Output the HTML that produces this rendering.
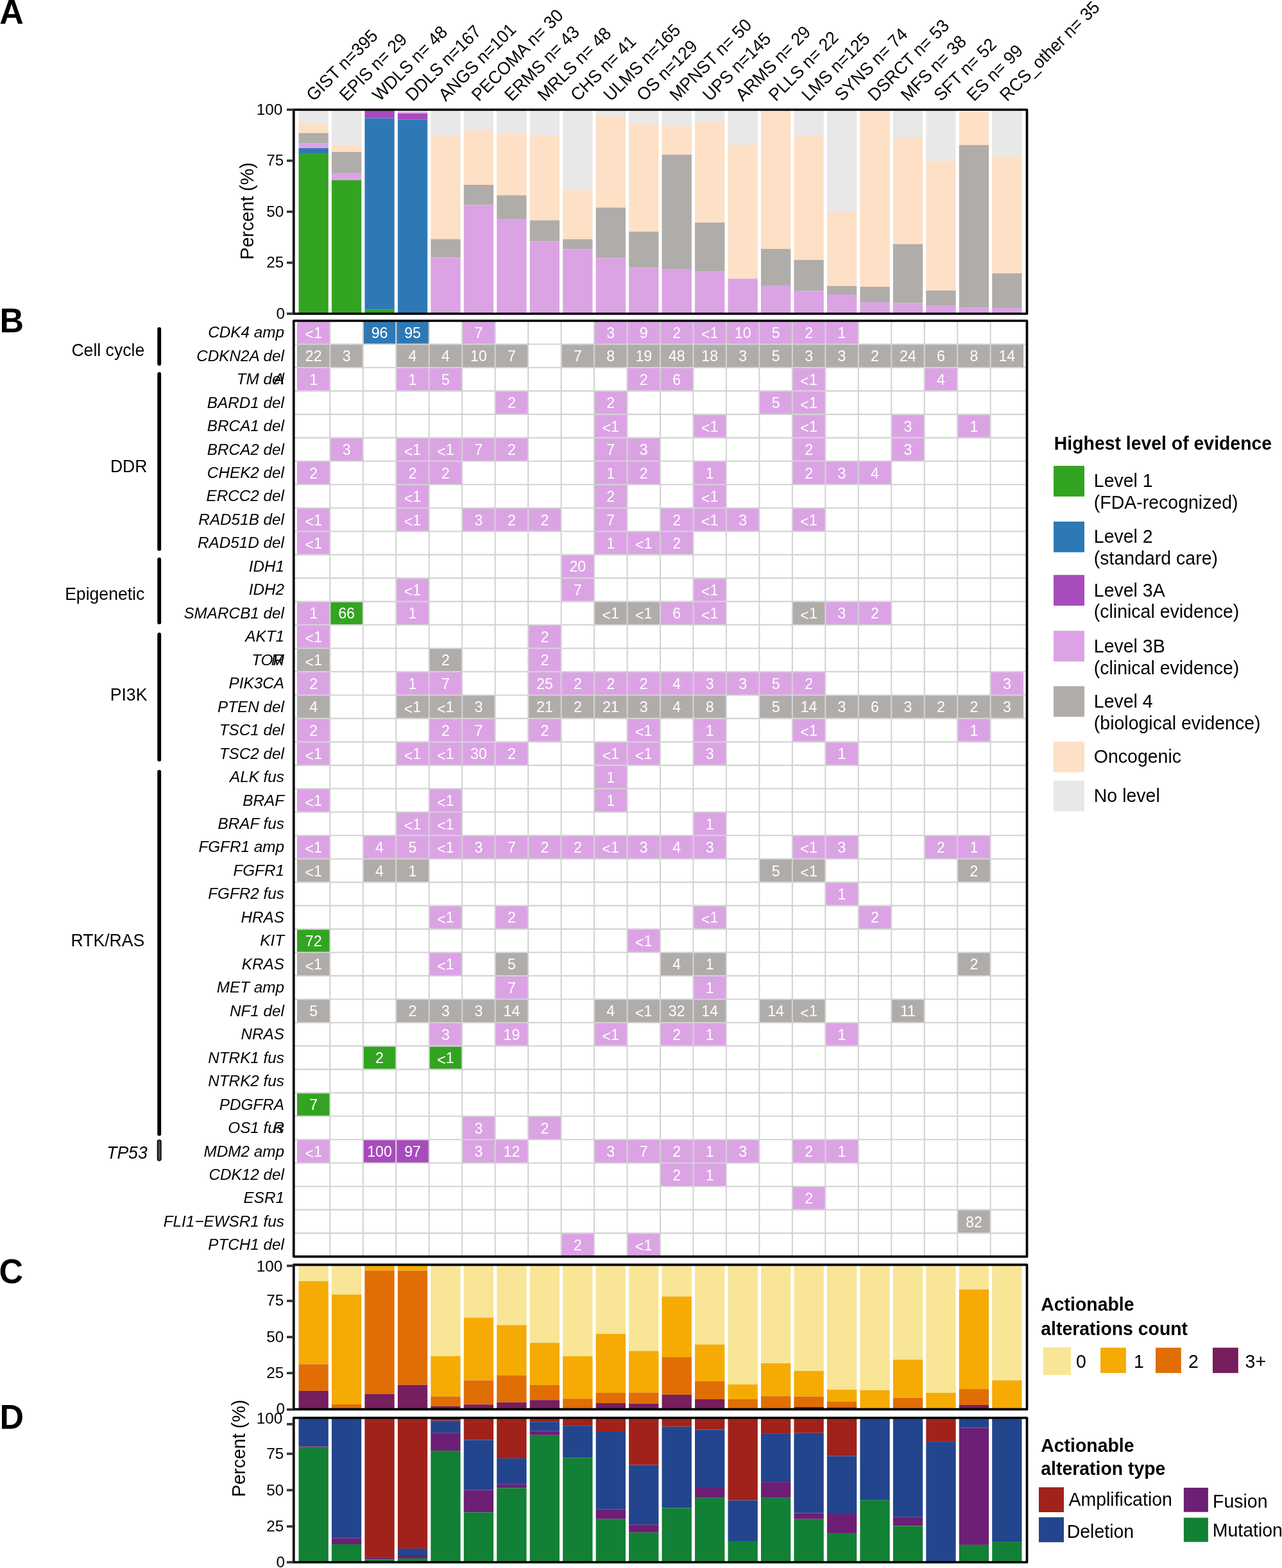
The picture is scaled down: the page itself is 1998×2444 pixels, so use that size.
<!DOCTYPE html>
<html><head><meta charset="utf-8"><title>Figure</title><style>html,body{margin:0;padding:0;background:#fff;overflow:hidden;}svg{display:block;}</style></head><body>
<svg xmlns="http://www.w3.org/2000/svg" width="1998" height="2444" viewBox="0 0 1998 2444" font-family="'Liberation Sans', Arial, Helvetica, sans-serif">
<rect width="1998" height="2444" fill="#fff"/>
<text transform="translate(-0.8,37.3) scale(1,1.04)" font-size="52" font-weight="bold">A</text>
<text transform="translate(-0.4,517.5) scale(1,1.04)" font-size="52" font-weight="bold">B</text>
<text transform="translate(-1.5,2000.3) scale(1,1.04)" font-size="52" font-weight="bold">C</text>
<text transform="translate(-0.4,2226.8) scale(1,1.04)" font-size="52" font-weight="bold">D</text>
<rect x="465.47" y="171" width="46.32" height="21.2" fill="#e8e8e8"/>
<rect x="465.47" y="192.2" width="46.32" height="15.1" fill="#fde0c5"/>
<rect x="465.47" y="207.3" width="46.32" height="16.4" fill="#b0acaa"/>
<rect x="465.47" y="223.7" width="46.32" height="7.3" fill="#dba3e4"/>
<rect x="465.47" y="231" width="46.32" height="8.9" fill="#2e79b5"/>
<rect x="465.47" y="239.9" width="46.32" height="249.1" fill="#33a421"/>
<rect x="516.93" y="171" width="46.32" height="55.1" fill="#e8e8e8"/>
<rect x="516.93" y="226.1" width="46.32" height="10.8" fill="#fde0c5"/>
<rect x="516.93" y="236.9" width="46.32" height="33" fill="#b0acaa"/>
<rect x="516.93" y="269.9" width="46.32" height="10.9" fill="#dba3e4"/>
<rect x="516.93" y="280.8" width="46.32" height="208.2" fill="#33a421"/>
<rect x="568.4" y="171" width="46.32" height="13.4" fill="#a74bbd"/>
<rect x="568.4" y="184.4" width="46.32" height="298.3" fill="#2e79b5"/>
<rect x="568.4" y="482.7" width="46.32" height="6.3" fill="#33a421"/>
<rect x="619.86" y="171" width="46.32" height="3.6" fill="#fde0c5"/>
<rect x="619.86" y="174.6" width="46.32" height="2.3" fill="#dba3e4"/>
<rect x="619.86" y="176.9" width="46.32" height="9.5" fill="#a74bbd"/>
<rect x="619.86" y="186.4" width="46.32" height="302.6" fill="#2e79b5"/>
<rect x="671.33" y="171" width="46.32" height="41.4" fill="#e8e8e8"/>
<rect x="671.33" y="212.4" width="46.32" height="160.3" fill="#fde0c5"/>
<rect x="671.33" y="372.7" width="46.32" height="28.5" fill="#b0acaa"/>
<rect x="671.33" y="401.2" width="46.32" height="86.4" fill="#dba3e4"/>
<rect x="671.33" y="487.6" width="46.32" height="1.4" fill="#33a421"/>
<rect x="722.79" y="171" width="46.32" height="32.1" fill="#e8e8e8"/>
<rect x="722.79" y="203.1" width="46.32" height="85" fill="#fde0c5"/>
<rect x="722.79" y="288.1" width="46.32" height="31.5" fill="#b0acaa"/>
<rect x="722.79" y="319.6" width="46.32" height="169.4" fill="#dba3e4"/>
<rect x="774.25" y="171" width="46.32" height="37.2" fill="#e8e8e8"/>
<rect x="774.25" y="208.2" width="46.32" height="96.2" fill="#fde0c5"/>
<rect x="774.25" y="304.4" width="46.32" height="36.6" fill="#b0acaa"/>
<rect x="774.25" y="341" width="46.32" height="148" fill="#dba3e4"/>
<rect x="825.72" y="171" width="46.32" height="39.8" fill="#e8e8e8"/>
<rect x="825.72" y="210.8" width="46.32" height="132.6" fill="#fde0c5"/>
<rect x="825.72" y="343.4" width="46.32" height="33.2" fill="#b0acaa"/>
<rect x="825.72" y="376.6" width="46.32" height="112.4" fill="#dba3e4"/>
<rect x="877.18" y="171" width="46.32" height="124.5" fill="#e8e8e8"/>
<rect x="877.18" y="295.5" width="46.32" height="77.4" fill="#fde0c5"/>
<rect x="877.18" y="372.9" width="46.32" height="15.4" fill="#b0acaa"/>
<rect x="877.18" y="388.3" width="46.32" height="100.7" fill="#dba3e4"/>
<rect x="928.65" y="171" width="46.32" height="9.8" fill="#e8e8e8"/>
<rect x="928.65" y="180.8" width="46.32" height="142.7" fill="#fde0c5"/>
<rect x="928.65" y="323.5" width="46.32" height="78.8" fill="#b0acaa"/>
<rect x="928.65" y="402.3" width="46.32" height="86.7" fill="#dba3e4"/>
<rect x="980.11" y="171" width="46.32" height="22.3" fill="#e8e8e8"/>
<rect x="980.11" y="193.3" width="46.32" height="167.8" fill="#fde0c5"/>
<rect x="980.11" y="361.1" width="46.32" height="56.4" fill="#b0acaa"/>
<rect x="980.11" y="417.5" width="46.32" height="71.5" fill="#dba3e4"/>
<rect x="1031.57" y="171" width="46.32" height="25.9" fill="#e8e8e8"/>
<rect x="1031.57" y="196.9" width="46.32" height="44.2" fill="#fde0c5"/>
<rect x="1031.57" y="241.1" width="46.32" height="177.9" fill="#b0acaa"/>
<rect x="1031.57" y="419" width="46.32" height="70" fill="#dba3e4"/>
<rect x="1083.04" y="171" width="46.32" height="19.9" fill="#e8e8e8"/>
<rect x="1083.04" y="190.9" width="46.32" height="155.9" fill="#fde0c5"/>
<rect x="1083.04" y="346.8" width="46.32" height="76.4" fill="#b0acaa"/>
<rect x="1083.04" y="423.2" width="46.32" height="65.8" fill="#dba3e4"/>
<rect x="1134.5" y="171" width="46.32" height="55.1" fill="#e8e8e8"/>
<rect x="1134.5" y="226.1" width="46.32" height="208.2" fill="#fde0c5"/>
<rect x="1134.5" y="434.3" width="46.32" height="54.7" fill="#dba3e4"/>
<rect x="1185.97" y="171" width="46.32" height="217" fill="#fde0c5"/>
<rect x="1185.97" y="388" width="46.32" height="57.8" fill="#b0acaa"/>
<rect x="1185.97" y="445.8" width="46.32" height="43.2" fill="#dba3e4"/>
<rect x="1237.43" y="171" width="46.32" height="40.9" fill="#e8e8e8"/>
<rect x="1237.43" y="211.9" width="46.32" height="193.2" fill="#fde0c5"/>
<rect x="1237.43" y="405.1" width="46.32" height="48.6" fill="#b0acaa"/>
<rect x="1237.43" y="453.7" width="46.32" height="35.3" fill="#dba3e4"/>
<rect x="1288.89" y="171" width="46.32" height="159" fill="#e8e8e8"/>
<rect x="1288.89" y="330" width="46.32" height="115.9" fill="#fde0c5"/>
<rect x="1288.89" y="445.9" width="46.32" height="13.1" fill="#b0acaa"/>
<rect x="1288.89" y="459" width="46.32" height="30" fill="#dba3e4"/>
<rect x="1340.36" y="171" width="46.32" height="276" fill="#fde0c5"/>
<rect x="1340.36" y="447" width="46.32" height="24.1" fill="#b0acaa"/>
<rect x="1340.36" y="471.1" width="46.32" height="17.9" fill="#dba3e4"/>
<rect x="1391.82" y="171" width="46.32" height="42.2" fill="#e8e8e8"/>
<rect x="1391.82" y="213.2" width="46.32" height="167.3" fill="#fde0c5"/>
<rect x="1391.82" y="380.5" width="46.32" height="91.7" fill="#b0acaa"/>
<rect x="1391.82" y="472.2" width="46.32" height="16.8" fill="#dba3e4"/>
<rect x="1443.29" y="171" width="46.32" height="79.5" fill="#e8e8e8"/>
<rect x="1443.29" y="250.5" width="46.32" height="202.4" fill="#fde0c5"/>
<rect x="1443.29" y="452.9" width="46.32" height="23.9" fill="#b0acaa"/>
<rect x="1443.29" y="476.8" width="46.32" height="12.2" fill="#dba3e4"/>
<rect x="1494.75" y="174.3" width="46.32" height="51.8" fill="#fde0c5"/>
<rect x="1494.75" y="226.1" width="46.32" height="253.6" fill="#b0acaa"/>
<rect x="1494.75" y="479.7" width="46.32" height="9.3" fill="#dba3e4"/>
<rect x="1546.21" y="171" width="46.32" height="72.9" fill="#e8e8e8"/>
<rect x="1546.21" y="243.9" width="46.32" height="182.2" fill="#fde0c5"/>
<rect x="1546.21" y="426.1" width="46.32" height="53.9" fill="#b0acaa"/>
<rect x="1546.21" y="480" width="46.32" height="9" fill="#dba3e4"/>
<rect x="457.75" y="171" width="1142.75" height="318" fill="none" stroke="#000" stroke-width="3.7" stroke-linejoin="round"/>
<line x1="447" x2="457.75" y1="489" y2="489" stroke="#333333" stroke-width="3.7"/>
<text transform="translate(443.95,496.9) scale(1,0.957)" font-size="24.3" text-anchor="end">0</text>
<line x1="447" x2="457.75" y1="409.5" y2="409.5" stroke="#333333" stroke-width="3.7"/>
<text transform="translate(442.16,417.4) scale(1,0.957)" font-size="24.3" text-anchor="end">25</text>
<line x1="447" x2="457.75" y1="330" y2="330" stroke="#333333" stroke-width="3.7"/>
<text transform="translate(442.16,337.9) scale(1,0.957)" font-size="24.3" text-anchor="end">50</text>
<line x1="447" x2="457.75" y1="250.5" y2="250.5" stroke="#333333" stroke-width="3.7"/>
<text transform="translate(442.16,258.4) scale(1,0.957)" font-size="24.3" text-anchor="end">75</text>
<line x1="447" x2="457.75" y1="171" y2="171" stroke="#333333" stroke-width="3.7"/>
<text transform="translate(440.36,178.9) scale(1,0.957)" font-size="24.3" text-anchor="end">100</text>
<text transform="translate(394.6,329) rotate(-90) scale(1,1.04)" font-size="28.7" text-anchor="middle">Percent (%)</text>
<text transform="translate(488.83,159) rotate(-45) scale(1,1.04)" font-size="26.6" style="white-space:pre">GIST n=395</text>
<text transform="translate(540.29,159) rotate(-45) scale(1,1.04)" font-size="26.6" style="white-space:pre">EPIS n= 29</text>
<text transform="translate(591.76,159) rotate(-45) scale(1,1.04)" font-size="26.6" style="white-space:pre">WDLS n= 48</text>
<text transform="translate(643.22,159) rotate(-45) scale(1,1.04)" font-size="26.6" style="white-space:pre">DDLS n=167</text>
<text transform="translate(694.68,159) rotate(-45) scale(1,1.04)" font-size="26.6" style="white-space:pre">ANGS n=101</text>
<text transform="translate(746.15,159) rotate(-45) scale(1,1.04)" font-size="26.6" style="white-space:pre">PECOMA n= 30</text>
<text transform="translate(797.61,159) rotate(-45) scale(1,1.04)" font-size="26.6" style="white-space:pre">ERMS n= 43</text>
<text transform="translate(849.08,159) rotate(-45) scale(1,1.04)" font-size="26.6" style="white-space:pre">MRLS n= 48</text>
<text transform="translate(900.54,159) rotate(-45) scale(1,1.04)" font-size="26.6" style="white-space:pre">CHS n= 41</text>
<text transform="translate(952,159) rotate(-45) scale(1,1.04)" font-size="26.6" style="white-space:pre">ULMS n=165</text>
<text transform="translate(1003.47,159) rotate(-45) scale(1,1.04)" font-size="26.6" style="white-space:pre">OS n=129</text>
<text transform="translate(1054.93,159) rotate(-45) scale(1,1.04)" font-size="26.6" style="white-space:pre">MPNST n= 50</text>
<text transform="translate(1106.4,159) rotate(-45) scale(1,1.04)" font-size="26.6" style="white-space:pre">UPS n=145</text>
<text transform="translate(1157.86,159) rotate(-45) scale(1,1.04)" font-size="26.6" style="white-space:pre">ARMS n= 29</text>
<text transform="translate(1209.32,159) rotate(-45) scale(1,1.04)" font-size="26.6" style="white-space:pre">PLLS n= 22</text>
<text transform="translate(1260.79,159) rotate(-45) scale(1,1.04)" font-size="26.6" style="white-space:pre">LMS n=125</text>
<text transform="translate(1312.25,159) rotate(-45) scale(1,1.04)" font-size="26.6" style="white-space:pre">SYNS n= 74</text>
<text transform="translate(1363.72,159) rotate(-45) scale(1,1.04)" font-size="26.6" style="white-space:pre">DSRCT n= 53</text>
<text transform="translate(1415.18,159) rotate(-45) scale(1,1.04)" font-size="26.6" style="white-space:pre">MFS n= 38</text>
<text transform="translate(1466.64,159) rotate(-45) scale(1,1.04)" font-size="26.6" style="white-space:pre">SFT n= 52</text>
<text transform="translate(1518.11,159) rotate(-45) scale(1,1.04)" font-size="26.6" style="white-space:pre">ES n= 99</text>
<text transform="translate(1569.57,159) rotate(-45) scale(1,1.04)" font-size="26.6" style="white-space:pre">RCS_other n= 35</text>
<rect x="462.9" y="500" width="51.46" height="36.46" fill="#dba3e4"/>
<rect x="565.82" y="500" width="51.46" height="36.46" fill="#2e79b5"/>
<rect x="617.29" y="500" width="51.46" height="36.46" fill="#2e79b5"/>
<rect x="720.22" y="500" width="51.46" height="36.46" fill="#dba3e4"/>
<rect x="926.07" y="500" width="51.46" height="36.46" fill="#dba3e4"/>
<rect x="977.54" y="500" width="51.46" height="36.46" fill="#dba3e4"/>
<rect x="1029" y="500" width="51.46" height="36.46" fill="#dba3e4"/>
<rect x="1080.46" y="500" width="51.46" height="36.46" fill="#dba3e4"/>
<rect x="1131.93" y="500" width="51.46" height="36.46" fill="#dba3e4"/>
<rect x="1183.39" y="500" width="51.46" height="36.46" fill="#dba3e4"/>
<rect x="1234.86" y="500" width="51.46" height="36.46" fill="#dba3e4"/>
<rect x="1286.32" y="500" width="51.46" height="36.46" fill="#dba3e4"/>
<rect x="462.9" y="536.47" width="51.46" height="36.46" fill="#b0acaa"/>
<rect x="514.36" y="536.47" width="51.46" height="36.46" fill="#b0acaa"/>
<rect x="617.29" y="536.47" width="51.46" height="36.46" fill="#b0acaa"/>
<rect x="668.75" y="536.47" width="51.46" height="36.46" fill="#b0acaa"/>
<rect x="720.22" y="536.47" width="51.46" height="36.46" fill="#b0acaa"/>
<rect x="771.68" y="536.47" width="51.46" height="36.46" fill="#b0acaa"/>
<rect x="874.61" y="536.47" width="51.46" height="36.46" fill="#b0acaa"/>
<rect x="926.07" y="536.47" width="51.46" height="36.46" fill="#b0acaa"/>
<rect x="977.54" y="536.47" width="51.46" height="36.46" fill="#b0acaa"/>
<rect x="1029" y="536.47" width="51.46" height="36.46" fill="#b0acaa"/>
<rect x="1080.46" y="536.47" width="51.46" height="36.46" fill="#b0acaa"/>
<rect x="1131.93" y="536.47" width="51.46" height="36.46" fill="#b0acaa"/>
<rect x="1183.39" y="536.47" width="51.46" height="36.46" fill="#b0acaa"/>
<rect x="1234.86" y="536.47" width="51.46" height="36.46" fill="#b0acaa"/>
<rect x="1286.32" y="536.47" width="51.46" height="36.46" fill="#b0acaa"/>
<rect x="1337.78" y="536.47" width="51.46" height="36.46" fill="#b0acaa"/>
<rect x="1389.25" y="536.47" width="51.46" height="36.46" fill="#b0acaa"/>
<rect x="1440.71" y="536.47" width="51.46" height="36.46" fill="#b0acaa"/>
<rect x="1492.18" y="536.47" width="51.46" height="36.46" fill="#b0acaa"/>
<rect x="1543.64" y="536.47" width="51.46" height="36.46" fill="#b0acaa"/>
<rect x="462.9" y="572.93" width="51.46" height="36.46" fill="#dba3e4"/>
<rect x="617.29" y="572.93" width="51.46" height="36.46" fill="#dba3e4"/>
<rect x="668.75" y="572.93" width="51.46" height="36.46" fill="#dba3e4"/>
<rect x="977.54" y="572.93" width="51.46" height="36.46" fill="#dba3e4"/>
<rect x="1029" y="572.93" width="51.46" height="36.46" fill="#dba3e4"/>
<rect x="1234.86" y="572.93" width="51.46" height="36.46" fill="#dba3e4"/>
<rect x="1440.71" y="572.93" width="51.46" height="36.46" fill="#dba3e4"/>
<rect x="771.68" y="609.39" width="51.46" height="36.46" fill="#dba3e4"/>
<rect x="926.07" y="609.39" width="51.46" height="36.46" fill="#dba3e4"/>
<rect x="1183.39" y="609.39" width="51.46" height="36.46" fill="#dba3e4"/>
<rect x="1234.86" y="609.39" width="51.46" height="36.46" fill="#dba3e4"/>
<rect x="926.07" y="645.86" width="51.46" height="36.46" fill="#dba3e4"/>
<rect x="1080.46" y="645.86" width="51.46" height="36.46" fill="#dba3e4"/>
<rect x="1234.86" y="645.86" width="51.46" height="36.46" fill="#dba3e4"/>
<rect x="1389.25" y="645.86" width="51.46" height="36.46" fill="#dba3e4"/>
<rect x="1492.18" y="645.86" width="51.46" height="36.46" fill="#dba3e4"/>
<rect x="514.36" y="682.33" width="51.46" height="36.46" fill="#dba3e4"/>
<rect x="617.29" y="682.33" width="51.46" height="36.46" fill="#dba3e4"/>
<rect x="668.75" y="682.33" width="51.46" height="36.46" fill="#dba3e4"/>
<rect x="720.22" y="682.33" width="51.46" height="36.46" fill="#dba3e4"/>
<rect x="771.68" y="682.33" width="51.46" height="36.46" fill="#dba3e4"/>
<rect x="926.07" y="682.33" width="51.46" height="36.46" fill="#dba3e4"/>
<rect x="977.54" y="682.33" width="51.46" height="36.46" fill="#dba3e4"/>
<rect x="1234.86" y="682.33" width="51.46" height="36.46" fill="#dba3e4"/>
<rect x="1389.25" y="682.33" width="51.46" height="36.46" fill="#dba3e4"/>
<rect x="462.9" y="718.79" width="51.46" height="36.46" fill="#dba3e4"/>
<rect x="617.29" y="718.79" width="51.46" height="36.46" fill="#dba3e4"/>
<rect x="668.75" y="718.79" width="51.46" height="36.46" fill="#dba3e4"/>
<rect x="926.07" y="718.79" width="51.46" height="36.46" fill="#dba3e4"/>
<rect x="977.54" y="718.79" width="51.46" height="36.46" fill="#dba3e4"/>
<rect x="1080.46" y="718.79" width="51.46" height="36.46" fill="#dba3e4"/>
<rect x="1234.86" y="718.79" width="51.46" height="36.46" fill="#dba3e4"/>
<rect x="1286.32" y="718.79" width="51.46" height="36.46" fill="#dba3e4"/>
<rect x="1337.78" y="718.79" width="51.46" height="36.46" fill="#dba3e4"/>
<rect x="617.29" y="755.25" width="51.46" height="36.46" fill="#dba3e4"/>
<rect x="926.07" y="755.25" width="51.46" height="36.46" fill="#dba3e4"/>
<rect x="1080.46" y="755.25" width="51.46" height="36.46" fill="#dba3e4"/>
<rect x="462.9" y="791.72" width="51.46" height="36.46" fill="#dba3e4"/>
<rect x="617.29" y="791.72" width="51.46" height="36.46" fill="#dba3e4"/>
<rect x="720.22" y="791.72" width="51.46" height="36.46" fill="#dba3e4"/>
<rect x="771.68" y="791.72" width="51.46" height="36.46" fill="#dba3e4"/>
<rect x="823.14" y="791.72" width="51.46" height="36.46" fill="#dba3e4"/>
<rect x="926.07" y="791.72" width="51.46" height="36.46" fill="#dba3e4"/>
<rect x="1029" y="791.72" width="51.46" height="36.46" fill="#dba3e4"/>
<rect x="1080.46" y="791.72" width="51.46" height="36.46" fill="#dba3e4"/>
<rect x="1131.93" y="791.72" width="51.46" height="36.46" fill="#dba3e4"/>
<rect x="1234.86" y="791.72" width="51.46" height="36.46" fill="#dba3e4"/>
<rect x="462.9" y="828.18" width="51.46" height="36.46" fill="#dba3e4"/>
<rect x="926.07" y="828.18" width="51.46" height="36.46" fill="#dba3e4"/>
<rect x="977.54" y="828.18" width="51.46" height="36.46" fill="#dba3e4"/>
<rect x="1029" y="828.18" width="51.46" height="36.46" fill="#dba3e4"/>
<rect x="874.61" y="864.65" width="51.46" height="36.46" fill="#dba3e4"/>
<rect x="617.29" y="901.12" width="51.46" height="36.46" fill="#dba3e4"/>
<rect x="874.61" y="901.12" width="51.46" height="36.46" fill="#dba3e4"/>
<rect x="1080.46" y="901.12" width="51.46" height="36.46" fill="#dba3e4"/>
<rect x="462.9" y="937.58" width="51.46" height="36.46" fill="#dba3e4"/>
<rect x="514.36" y="937.58" width="51.46" height="36.46" fill="#33a421"/>
<rect x="617.29" y="937.58" width="51.46" height="36.46" fill="#dba3e4"/>
<rect x="926.07" y="937.58" width="51.46" height="36.46" fill="#b0acaa"/>
<rect x="977.54" y="937.58" width="51.46" height="36.46" fill="#b0acaa"/>
<rect x="1029" y="937.58" width="51.46" height="36.46" fill="#dba3e4"/>
<rect x="1080.46" y="937.58" width="51.46" height="36.46" fill="#dba3e4"/>
<rect x="1234.86" y="937.58" width="51.46" height="36.46" fill="#b0acaa"/>
<rect x="1286.32" y="937.58" width="51.46" height="36.46" fill="#dba3e4"/>
<rect x="1337.78" y="937.58" width="51.46" height="36.46" fill="#dba3e4"/>
<rect x="462.9" y="974.04" width="51.46" height="36.46" fill="#dba3e4"/>
<rect x="823.14" y="974.04" width="51.46" height="36.46" fill="#dba3e4"/>
<rect x="462.9" y="1010.51" width="51.46" height="36.46" fill="#b0acaa"/>
<rect x="668.75" y="1010.51" width="51.46" height="36.46" fill="#b0acaa"/>
<rect x="823.14" y="1010.51" width="51.46" height="36.46" fill="#dba3e4"/>
<rect x="462.9" y="1046.97" width="51.46" height="36.46" fill="#dba3e4"/>
<rect x="617.29" y="1046.97" width="51.46" height="36.46" fill="#dba3e4"/>
<rect x="668.75" y="1046.97" width="51.46" height="36.46" fill="#dba3e4"/>
<rect x="823.14" y="1046.97" width="51.46" height="36.46" fill="#dba3e4"/>
<rect x="874.61" y="1046.97" width="51.46" height="36.46" fill="#dba3e4"/>
<rect x="926.07" y="1046.97" width="51.46" height="36.46" fill="#dba3e4"/>
<rect x="977.54" y="1046.97" width="51.46" height="36.46" fill="#dba3e4"/>
<rect x="1029" y="1046.97" width="51.46" height="36.46" fill="#dba3e4"/>
<rect x="1080.46" y="1046.97" width="51.46" height="36.46" fill="#dba3e4"/>
<rect x="1131.93" y="1046.97" width="51.46" height="36.46" fill="#dba3e4"/>
<rect x="1183.39" y="1046.97" width="51.46" height="36.46" fill="#dba3e4"/>
<rect x="1234.86" y="1046.97" width="51.46" height="36.46" fill="#dba3e4"/>
<rect x="1543.64" y="1046.97" width="51.46" height="36.46" fill="#dba3e4"/>
<rect x="462.9" y="1083.44" width="51.46" height="36.46" fill="#b0acaa"/>
<rect x="617.29" y="1083.44" width="51.46" height="36.46" fill="#b0acaa"/>
<rect x="668.75" y="1083.44" width="51.46" height="36.46" fill="#b0acaa"/>
<rect x="720.22" y="1083.44" width="51.46" height="36.46" fill="#b0acaa"/>
<rect x="823.14" y="1083.44" width="51.46" height="36.46" fill="#b0acaa"/>
<rect x="874.61" y="1083.44" width="51.46" height="36.46" fill="#b0acaa"/>
<rect x="926.07" y="1083.44" width="51.46" height="36.46" fill="#b0acaa"/>
<rect x="977.54" y="1083.44" width="51.46" height="36.46" fill="#b0acaa"/>
<rect x="1029" y="1083.44" width="51.46" height="36.46" fill="#b0acaa"/>
<rect x="1080.46" y="1083.44" width="51.46" height="36.46" fill="#b0acaa"/>
<rect x="1183.39" y="1083.44" width="51.46" height="36.46" fill="#b0acaa"/>
<rect x="1234.86" y="1083.44" width="51.46" height="36.46" fill="#b0acaa"/>
<rect x="1286.32" y="1083.44" width="51.46" height="36.46" fill="#b0acaa"/>
<rect x="1337.78" y="1083.44" width="51.46" height="36.46" fill="#b0acaa"/>
<rect x="1389.25" y="1083.44" width="51.46" height="36.46" fill="#b0acaa"/>
<rect x="1440.71" y="1083.44" width="51.46" height="36.46" fill="#b0acaa"/>
<rect x="1492.18" y="1083.44" width="51.46" height="36.46" fill="#b0acaa"/>
<rect x="1543.64" y="1083.44" width="51.46" height="36.46" fill="#b0acaa"/>
<rect x="462.9" y="1119.9" width="51.46" height="36.46" fill="#dba3e4"/>
<rect x="668.75" y="1119.9" width="51.46" height="36.46" fill="#dba3e4"/>
<rect x="720.22" y="1119.9" width="51.46" height="36.46" fill="#dba3e4"/>
<rect x="823.14" y="1119.9" width="51.46" height="36.46" fill="#dba3e4"/>
<rect x="977.54" y="1119.9" width="51.46" height="36.46" fill="#dba3e4"/>
<rect x="1080.46" y="1119.9" width="51.46" height="36.46" fill="#dba3e4"/>
<rect x="1234.86" y="1119.9" width="51.46" height="36.46" fill="#dba3e4"/>
<rect x="1492.18" y="1119.9" width="51.46" height="36.46" fill="#dba3e4"/>
<rect x="462.9" y="1156.37" width="51.46" height="36.46" fill="#dba3e4"/>
<rect x="617.29" y="1156.37" width="51.46" height="36.46" fill="#dba3e4"/>
<rect x="668.75" y="1156.37" width="51.46" height="36.46" fill="#dba3e4"/>
<rect x="720.22" y="1156.37" width="51.46" height="36.46" fill="#dba3e4"/>
<rect x="771.68" y="1156.37" width="51.46" height="36.46" fill="#dba3e4"/>
<rect x="926.07" y="1156.37" width="51.46" height="36.46" fill="#dba3e4"/>
<rect x="977.54" y="1156.37" width="51.46" height="36.46" fill="#dba3e4"/>
<rect x="1080.46" y="1156.37" width="51.46" height="36.46" fill="#dba3e4"/>
<rect x="1286.32" y="1156.37" width="51.46" height="36.46" fill="#dba3e4"/>
<rect x="926.07" y="1192.84" width="51.46" height="36.46" fill="#dba3e4"/>
<rect x="462.9" y="1229.3" width="51.46" height="36.46" fill="#dba3e4"/>
<rect x="668.75" y="1229.3" width="51.46" height="36.46" fill="#dba3e4"/>
<rect x="926.07" y="1229.3" width="51.46" height="36.46" fill="#dba3e4"/>
<rect x="617.29" y="1265.76" width="51.46" height="36.46" fill="#dba3e4"/>
<rect x="668.75" y="1265.76" width="51.46" height="36.46" fill="#dba3e4"/>
<rect x="1080.46" y="1265.76" width="51.46" height="36.46" fill="#dba3e4"/>
<rect x="462.9" y="1302.23" width="51.46" height="36.46" fill="#dba3e4"/>
<rect x="565.82" y="1302.23" width="51.46" height="36.46" fill="#dba3e4"/>
<rect x="617.29" y="1302.23" width="51.46" height="36.46" fill="#dba3e4"/>
<rect x="668.75" y="1302.23" width="51.46" height="36.46" fill="#dba3e4"/>
<rect x="720.22" y="1302.23" width="51.46" height="36.46" fill="#dba3e4"/>
<rect x="771.68" y="1302.23" width="51.46" height="36.46" fill="#dba3e4"/>
<rect x="823.14" y="1302.23" width="51.46" height="36.46" fill="#dba3e4"/>
<rect x="874.61" y="1302.23" width="51.46" height="36.46" fill="#dba3e4"/>
<rect x="926.07" y="1302.23" width="51.46" height="36.46" fill="#dba3e4"/>
<rect x="977.54" y="1302.23" width="51.46" height="36.46" fill="#dba3e4"/>
<rect x="1029" y="1302.23" width="51.46" height="36.46" fill="#dba3e4"/>
<rect x="1080.46" y="1302.23" width="51.46" height="36.46" fill="#dba3e4"/>
<rect x="1234.86" y="1302.23" width="51.46" height="36.46" fill="#dba3e4"/>
<rect x="1286.32" y="1302.23" width="51.46" height="36.46" fill="#dba3e4"/>
<rect x="1440.71" y="1302.23" width="51.46" height="36.46" fill="#dba3e4"/>
<rect x="1492.18" y="1302.23" width="51.46" height="36.46" fill="#dba3e4"/>
<rect x="462.9" y="1338.69" width="51.46" height="36.46" fill="#b0acaa"/>
<rect x="565.82" y="1338.69" width="51.46" height="36.46" fill="#b0acaa"/>
<rect x="617.29" y="1338.69" width="51.46" height="36.46" fill="#b0acaa"/>
<rect x="1183.39" y="1338.69" width="51.46" height="36.46" fill="#b0acaa"/>
<rect x="1234.86" y="1338.69" width="51.46" height="36.46" fill="#b0acaa"/>
<rect x="1492.18" y="1338.69" width="51.46" height="36.46" fill="#b0acaa"/>
<rect x="1286.32" y="1375.16" width="51.46" height="36.46" fill="#dba3e4"/>
<rect x="668.75" y="1411.62" width="51.46" height="36.46" fill="#dba3e4"/>
<rect x="771.68" y="1411.62" width="51.46" height="36.46" fill="#dba3e4"/>
<rect x="1080.46" y="1411.62" width="51.46" height="36.46" fill="#dba3e4"/>
<rect x="1337.78" y="1411.62" width="51.46" height="36.46" fill="#dba3e4"/>
<rect x="462.9" y="1448.09" width="51.46" height="36.46" fill="#33a421"/>
<rect x="977.54" y="1448.09" width="51.46" height="36.46" fill="#dba3e4"/>
<rect x="462.9" y="1484.55" width="51.46" height="36.46" fill="#b0acaa"/>
<rect x="668.75" y="1484.55" width="51.46" height="36.46" fill="#dba3e4"/>
<rect x="771.68" y="1484.55" width="51.46" height="36.46" fill="#b0acaa"/>
<rect x="1029" y="1484.55" width="51.46" height="36.46" fill="#b0acaa"/>
<rect x="1080.46" y="1484.55" width="51.46" height="36.46" fill="#b0acaa"/>
<rect x="1492.18" y="1484.55" width="51.46" height="36.46" fill="#b0acaa"/>
<rect x="771.68" y="1521.02" width="51.46" height="36.46" fill="#dba3e4"/>
<rect x="1080.46" y="1521.02" width="51.46" height="36.46" fill="#dba3e4"/>
<rect x="462.9" y="1557.48" width="51.46" height="36.46" fill="#b0acaa"/>
<rect x="617.29" y="1557.48" width="51.46" height="36.46" fill="#b0acaa"/>
<rect x="668.75" y="1557.48" width="51.46" height="36.46" fill="#b0acaa"/>
<rect x="720.22" y="1557.48" width="51.46" height="36.46" fill="#b0acaa"/>
<rect x="771.68" y="1557.48" width="51.46" height="36.46" fill="#b0acaa"/>
<rect x="926.07" y="1557.48" width="51.46" height="36.46" fill="#b0acaa"/>
<rect x="977.54" y="1557.48" width="51.46" height="36.46" fill="#b0acaa"/>
<rect x="1029" y="1557.48" width="51.46" height="36.46" fill="#b0acaa"/>
<rect x="1080.46" y="1557.48" width="51.46" height="36.46" fill="#b0acaa"/>
<rect x="1183.39" y="1557.48" width="51.46" height="36.46" fill="#b0acaa"/>
<rect x="1234.86" y="1557.48" width="51.46" height="36.46" fill="#b0acaa"/>
<rect x="1389.25" y="1557.48" width="51.46" height="36.46" fill="#b0acaa"/>
<rect x="668.75" y="1593.95" width="51.46" height="36.46" fill="#dba3e4"/>
<rect x="771.68" y="1593.95" width="51.46" height="36.46" fill="#dba3e4"/>
<rect x="926.07" y="1593.95" width="51.46" height="36.46" fill="#dba3e4"/>
<rect x="1029" y="1593.95" width="51.46" height="36.46" fill="#dba3e4"/>
<rect x="1080.46" y="1593.95" width="51.46" height="36.46" fill="#dba3e4"/>
<rect x="1286.32" y="1593.95" width="51.46" height="36.46" fill="#dba3e4"/>
<rect x="565.82" y="1630.41" width="51.46" height="36.46" fill="#33a421"/>
<rect x="668.75" y="1630.41" width="51.46" height="36.46" fill="#33a421"/>
<rect x="462.9" y="1703.34" width="51.46" height="36.46" fill="#33a421"/>
<rect x="720.22" y="1739.81" width="51.46" height="36.46" fill="#dba3e4"/>
<rect x="823.14" y="1739.81" width="51.46" height="36.46" fill="#dba3e4"/>
<rect x="462.9" y="1776.27" width="51.46" height="36.46" fill="#dba3e4"/>
<rect x="565.82" y="1776.27" width="51.46" height="36.46" fill="#a74bbd"/>
<rect x="617.29" y="1776.27" width="51.46" height="36.46" fill="#a74bbd"/>
<rect x="720.22" y="1776.27" width="51.46" height="36.46" fill="#dba3e4"/>
<rect x="771.68" y="1776.27" width="51.46" height="36.46" fill="#dba3e4"/>
<rect x="926.07" y="1776.27" width="51.46" height="36.46" fill="#dba3e4"/>
<rect x="977.54" y="1776.27" width="51.46" height="36.46" fill="#dba3e4"/>
<rect x="1029" y="1776.27" width="51.46" height="36.46" fill="#dba3e4"/>
<rect x="1080.46" y="1776.27" width="51.46" height="36.46" fill="#dba3e4"/>
<rect x="1131.93" y="1776.27" width="51.46" height="36.46" fill="#dba3e4"/>
<rect x="1234.86" y="1776.27" width="51.46" height="36.46" fill="#dba3e4"/>
<rect x="1286.32" y="1776.27" width="51.46" height="36.46" fill="#dba3e4"/>
<rect x="1029" y="1812.74" width="51.46" height="36.46" fill="#dba3e4"/>
<rect x="1080.46" y="1812.74" width="51.46" height="36.46" fill="#dba3e4"/>
<rect x="1234.86" y="1849.2" width="51.46" height="36.46" fill="#dba3e4"/>
<rect x="1492.18" y="1885.67" width="51.46" height="36.46" fill="#b0acaa"/>
<rect x="874.61" y="1922.13" width="51.46" height="36.46" fill="#dba3e4"/>
<rect x="977.54" y="1922.13" width="51.46" height="36.46" fill="#dba3e4"/>
<line x1="514.36" x2="514.36" y1="500" y2="1958.6" stroke="#d3d3d3" stroke-width="2.1"/>
<line x1="565.82" x2="565.82" y1="500" y2="1958.6" stroke="#d3d3d3" stroke-width="2.1"/>
<line x1="617.29" x2="617.29" y1="500" y2="1958.6" stroke="#d3d3d3" stroke-width="2.1"/>
<line x1="668.75" x2="668.75" y1="500" y2="1958.6" stroke="#d3d3d3" stroke-width="2.1"/>
<line x1="720.22" x2="720.22" y1="500" y2="1958.6" stroke="#d3d3d3" stroke-width="2.1"/>
<line x1="771.68" x2="771.68" y1="500" y2="1958.6" stroke="#d3d3d3" stroke-width="2.1"/>
<line x1="823.14" x2="823.14" y1="500" y2="1958.6" stroke="#d3d3d3" stroke-width="2.1"/>
<line x1="874.61" x2="874.61" y1="500" y2="1958.6" stroke="#d3d3d3" stroke-width="2.1"/>
<line x1="926.07" x2="926.07" y1="500" y2="1958.6" stroke="#d3d3d3" stroke-width="2.1"/>
<line x1="977.54" x2="977.54" y1="500" y2="1958.6" stroke="#d3d3d3" stroke-width="2.1"/>
<line x1="1029" x2="1029" y1="500" y2="1958.6" stroke="#d3d3d3" stroke-width="2.1"/>
<line x1="1080.46" x2="1080.46" y1="500" y2="1958.6" stroke="#d3d3d3" stroke-width="2.1"/>
<line x1="1131.93" x2="1131.93" y1="500" y2="1958.6" stroke="#d3d3d3" stroke-width="2.1"/>
<line x1="1183.39" x2="1183.39" y1="500" y2="1958.6" stroke="#d3d3d3" stroke-width="2.1"/>
<line x1="1234.86" x2="1234.86" y1="500" y2="1958.6" stroke="#d3d3d3" stroke-width="2.1"/>
<line x1="1286.32" x2="1286.32" y1="500" y2="1958.6" stroke="#d3d3d3" stroke-width="2.1"/>
<line x1="1337.78" x2="1337.78" y1="500" y2="1958.6" stroke="#d3d3d3" stroke-width="2.1"/>
<line x1="1389.25" x2="1389.25" y1="500" y2="1958.6" stroke="#d3d3d3" stroke-width="2.1"/>
<line x1="1440.71" x2="1440.71" y1="500" y2="1958.6" stroke="#d3d3d3" stroke-width="2.1"/>
<line x1="1492.18" x2="1492.18" y1="500" y2="1958.6" stroke="#d3d3d3" stroke-width="2.1"/>
<line x1="1543.64" x2="1543.64" y1="500" y2="1958.6" stroke="#d3d3d3" stroke-width="2.1"/>
<line x1="457.75" x2="1600.5" y1="536.47" y2="536.47" stroke="#d3d3d3" stroke-width="2.1"/>
<line x1="457.75" x2="1600.5" y1="572.93" y2="572.93" stroke="#d3d3d3" stroke-width="2.1"/>
<line x1="457.75" x2="1600.5" y1="609.39" y2="609.39" stroke="#d3d3d3" stroke-width="2.1"/>
<line x1="457.75" x2="1600.5" y1="645.86" y2="645.86" stroke="#d3d3d3" stroke-width="2.1"/>
<line x1="457.75" x2="1600.5" y1="682.33" y2="682.33" stroke="#d3d3d3" stroke-width="2.1"/>
<line x1="457.75" x2="1600.5" y1="718.79" y2="718.79" stroke="#d3d3d3" stroke-width="2.1"/>
<line x1="457.75" x2="1600.5" y1="755.25" y2="755.25" stroke="#d3d3d3" stroke-width="2.1"/>
<line x1="457.75" x2="1600.5" y1="791.72" y2="791.72" stroke="#d3d3d3" stroke-width="2.1"/>
<line x1="457.75" x2="1600.5" y1="828.18" y2="828.18" stroke="#d3d3d3" stroke-width="2.1"/>
<line x1="457.75" x2="1600.5" y1="864.65" y2="864.65" stroke="#d3d3d3" stroke-width="2.1"/>
<line x1="457.75" x2="1600.5" y1="901.12" y2="901.12" stroke="#d3d3d3" stroke-width="2.1"/>
<line x1="457.75" x2="1600.5" y1="937.58" y2="937.58" stroke="#d3d3d3" stroke-width="2.1"/>
<line x1="457.75" x2="1600.5" y1="974.04" y2="974.04" stroke="#d3d3d3" stroke-width="2.1"/>
<line x1="457.75" x2="1600.5" y1="1010.51" y2="1010.51" stroke="#d3d3d3" stroke-width="2.1"/>
<line x1="457.75" x2="1600.5" y1="1046.97" y2="1046.97" stroke="#d3d3d3" stroke-width="2.1"/>
<line x1="457.75" x2="1600.5" y1="1083.44" y2="1083.44" stroke="#d3d3d3" stroke-width="2.1"/>
<line x1="457.75" x2="1600.5" y1="1119.9" y2="1119.9" stroke="#d3d3d3" stroke-width="2.1"/>
<line x1="457.75" x2="1600.5" y1="1156.37" y2="1156.37" stroke="#d3d3d3" stroke-width="2.1"/>
<line x1="457.75" x2="1600.5" y1="1192.84" y2="1192.84" stroke="#d3d3d3" stroke-width="2.1"/>
<line x1="457.75" x2="1600.5" y1="1229.3" y2="1229.3" stroke="#d3d3d3" stroke-width="2.1"/>
<line x1="457.75" x2="1600.5" y1="1265.76" y2="1265.76" stroke="#d3d3d3" stroke-width="2.1"/>
<line x1="457.75" x2="1600.5" y1="1302.23" y2="1302.23" stroke="#d3d3d3" stroke-width="2.1"/>
<line x1="457.75" x2="1600.5" y1="1338.69" y2="1338.69" stroke="#d3d3d3" stroke-width="2.1"/>
<line x1="457.75" x2="1600.5" y1="1375.16" y2="1375.16" stroke="#d3d3d3" stroke-width="2.1"/>
<line x1="457.75" x2="1600.5" y1="1411.62" y2="1411.62" stroke="#d3d3d3" stroke-width="2.1"/>
<line x1="457.75" x2="1600.5" y1="1448.09" y2="1448.09" stroke="#d3d3d3" stroke-width="2.1"/>
<line x1="457.75" x2="1600.5" y1="1484.55" y2="1484.55" stroke="#d3d3d3" stroke-width="2.1"/>
<line x1="457.75" x2="1600.5" y1="1521.02" y2="1521.02" stroke="#d3d3d3" stroke-width="2.1"/>
<line x1="457.75" x2="1600.5" y1="1557.48" y2="1557.48" stroke="#d3d3d3" stroke-width="2.1"/>
<line x1="457.75" x2="1600.5" y1="1593.95" y2="1593.95" stroke="#d3d3d3" stroke-width="2.1"/>
<line x1="457.75" x2="1600.5" y1="1630.41" y2="1630.41" stroke="#d3d3d3" stroke-width="2.1"/>
<line x1="457.75" x2="1600.5" y1="1666.88" y2="1666.88" stroke="#d3d3d3" stroke-width="2.1"/>
<line x1="457.75" x2="1600.5" y1="1703.34" y2="1703.34" stroke="#d3d3d3" stroke-width="2.1"/>
<line x1="457.75" x2="1600.5" y1="1739.81" y2="1739.81" stroke="#d3d3d3" stroke-width="2.1"/>
<line x1="457.75" x2="1600.5" y1="1776.27" y2="1776.27" stroke="#d3d3d3" stroke-width="2.1"/>
<line x1="457.75" x2="1600.5" y1="1812.74" y2="1812.74" stroke="#d3d3d3" stroke-width="2.1"/>
<line x1="457.75" x2="1600.5" y1="1849.2" y2="1849.2" stroke="#d3d3d3" stroke-width="2.1"/>
<line x1="457.75" x2="1600.5" y1="1885.67" y2="1885.67" stroke="#d3d3d3" stroke-width="2.1"/>
<line x1="457.75" x2="1600.5" y1="1922.13" y2="1922.13" stroke="#d3d3d3" stroke-width="2.1"/>
<text transform="translate(488.63,526.83) scale(1,1.01)" font-size="23.2" text-anchor="middle" fill="#fff"><tspan dy="2.4">&lt;</tspan><tspan dy="-2.4">1</tspan></text>
<text transform="translate(591.56,526.83) scale(1,1.01)" font-size="23.2" text-anchor="middle" fill="#fff">96</text>
<text transform="translate(643.02,526.83) scale(1,1.01)" font-size="23.2" text-anchor="middle" fill="#fff">95</text>
<text transform="translate(745.95,526.83) scale(1,1.01)" font-size="23.2" text-anchor="middle" fill="#fff">7</text>
<text transform="translate(951.8,526.83) scale(1,1.01)" font-size="23.2" text-anchor="middle" fill="#fff">3</text>
<text transform="translate(1003.27,526.83) scale(1,1.01)" font-size="23.2" text-anchor="middle" fill="#fff">9</text>
<text transform="translate(1054.73,526.83) scale(1,1.01)" font-size="23.2" text-anchor="middle" fill="#fff">2</text>
<text transform="translate(1106.2,526.83) scale(1,1.01)" font-size="23.2" text-anchor="middle" fill="#fff"><tspan dy="2.4">&lt;</tspan><tspan dy="-2.4">1</tspan></text>
<text transform="translate(1157.66,526.83) scale(1,1.01)" font-size="23.2" text-anchor="middle" fill="#fff">10</text>
<text transform="translate(1209.12,526.83) scale(1,1.01)" font-size="23.2" text-anchor="middle" fill="#fff">5</text>
<text transform="translate(1260.59,526.83) scale(1,1.01)" font-size="23.2" text-anchor="middle" fill="#fff">2</text>
<text transform="translate(1312.05,526.83) scale(1,1.01)" font-size="23.2" text-anchor="middle" fill="#fff">1</text>
<text transform="translate(488.63,563.3) scale(1,1.01)" font-size="23.2" text-anchor="middle" fill="#fff">22</text>
<text transform="translate(540.09,563.3) scale(1,1.01)" font-size="23.2" text-anchor="middle" fill="#fff">3</text>
<text transform="translate(643.02,563.3) scale(1,1.01)" font-size="23.2" text-anchor="middle" fill="#fff">4</text>
<text transform="translate(694.48,563.3) scale(1,1.01)" font-size="23.2" text-anchor="middle" fill="#fff">4</text>
<text transform="translate(745.95,563.3) scale(1,1.01)" font-size="23.2" text-anchor="middle" fill="#fff">10</text>
<text transform="translate(797.41,563.3) scale(1,1.01)" font-size="23.2" text-anchor="middle" fill="#fff">7</text>
<text transform="translate(900.34,563.3) scale(1,1.01)" font-size="23.2" text-anchor="middle" fill="#fff">7</text>
<text transform="translate(951.8,563.3) scale(1,1.01)" font-size="23.2" text-anchor="middle" fill="#fff">8</text>
<text transform="translate(1003.27,563.3) scale(1,1.01)" font-size="23.2" text-anchor="middle" fill="#fff">19</text>
<text transform="translate(1054.73,563.3) scale(1,1.01)" font-size="23.2" text-anchor="middle" fill="#fff">48</text>
<text transform="translate(1106.2,563.3) scale(1,1.01)" font-size="23.2" text-anchor="middle" fill="#fff">18</text>
<text transform="translate(1157.66,563.3) scale(1,1.01)" font-size="23.2" text-anchor="middle" fill="#fff">3</text>
<text transform="translate(1209.12,563.3) scale(1,1.01)" font-size="23.2" text-anchor="middle" fill="#fff">5</text>
<text transform="translate(1260.59,563.3) scale(1,1.01)" font-size="23.2" text-anchor="middle" fill="#fff">3</text>
<text transform="translate(1312.05,563.3) scale(1,1.01)" font-size="23.2" text-anchor="middle" fill="#fff">3</text>
<text transform="translate(1363.52,563.3) scale(1,1.01)" font-size="23.2" text-anchor="middle" fill="#fff">2</text>
<text transform="translate(1414.98,563.3) scale(1,1.01)" font-size="23.2" text-anchor="middle" fill="#fff">24</text>
<text transform="translate(1466.44,563.3) scale(1,1.01)" font-size="23.2" text-anchor="middle" fill="#fff">6</text>
<text transform="translate(1517.91,563.3) scale(1,1.01)" font-size="23.2" text-anchor="middle" fill="#fff">8</text>
<text transform="translate(1569.37,563.3) scale(1,1.01)" font-size="23.2" text-anchor="middle" fill="#fff">14</text>
<text transform="translate(488.63,599.76) scale(1,1.01)" font-size="23.2" text-anchor="middle" fill="#fff">1</text>
<text transform="translate(643.02,599.76) scale(1,1.01)" font-size="23.2" text-anchor="middle" fill="#fff">1</text>
<text transform="translate(694.48,599.76) scale(1,1.01)" font-size="23.2" text-anchor="middle" fill="#fff">5</text>
<text transform="translate(1003.27,599.76) scale(1,1.01)" font-size="23.2" text-anchor="middle" fill="#fff">2</text>
<text transform="translate(1054.73,599.76) scale(1,1.01)" font-size="23.2" text-anchor="middle" fill="#fff">6</text>
<text transform="translate(1260.59,599.76) scale(1,1.01)" font-size="23.2" text-anchor="middle" fill="#fff"><tspan dy="2.4">&lt;</tspan><tspan dy="-2.4">1</tspan></text>
<text transform="translate(1466.44,599.76) scale(1,1.01)" font-size="23.2" text-anchor="middle" fill="#fff">4</text>
<text transform="translate(797.41,636.23) scale(1,1.01)" font-size="23.2" text-anchor="middle" fill="#fff">2</text>
<text transform="translate(951.8,636.23) scale(1,1.01)" font-size="23.2" text-anchor="middle" fill="#fff">2</text>
<text transform="translate(1209.12,636.23) scale(1,1.01)" font-size="23.2" text-anchor="middle" fill="#fff">5</text>
<text transform="translate(1260.59,636.23) scale(1,1.01)" font-size="23.2" text-anchor="middle" fill="#fff"><tspan dy="2.4">&lt;</tspan><tspan dy="-2.4">1</tspan></text>
<text transform="translate(951.8,672.69) scale(1,1.01)" font-size="23.2" text-anchor="middle" fill="#fff"><tspan dy="2.4">&lt;</tspan><tspan dy="-2.4">1</tspan></text>
<text transform="translate(1106.2,672.69) scale(1,1.01)" font-size="23.2" text-anchor="middle" fill="#fff"><tspan dy="2.4">&lt;</tspan><tspan dy="-2.4">1</tspan></text>
<text transform="translate(1260.59,672.69) scale(1,1.01)" font-size="23.2" text-anchor="middle" fill="#fff"><tspan dy="2.4">&lt;</tspan><tspan dy="-2.4">1</tspan></text>
<text transform="translate(1414.98,672.69) scale(1,1.01)" font-size="23.2" text-anchor="middle" fill="#fff">3</text>
<text transform="translate(1517.91,672.69) scale(1,1.01)" font-size="23.2" text-anchor="middle" fill="#fff">1</text>
<text transform="translate(540.09,709.16) scale(1,1.01)" font-size="23.2" text-anchor="middle" fill="#fff">3</text>
<text transform="translate(643.02,709.16) scale(1,1.01)" font-size="23.2" text-anchor="middle" fill="#fff"><tspan dy="2.4">&lt;</tspan><tspan dy="-2.4">1</tspan></text>
<text transform="translate(694.48,709.16) scale(1,1.01)" font-size="23.2" text-anchor="middle" fill="#fff"><tspan dy="2.4">&lt;</tspan><tspan dy="-2.4">1</tspan></text>
<text transform="translate(745.95,709.16) scale(1,1.01)" font-size="23.2" text-anchor="middle" fill="#fff">7</text>
<text transform="translate(797.41,709.16) scale(1,1.01)" font-size="23.2" text-anchor="middle" fill="#fff">2</text>
<text transform="translate(951.8,709.16) scale(1,1.01)" font-size="23.2" text-anchor="middle" fill="#fff">7</text>
<text transform="translate(1003.27,709.16) scale(1,1.01)" font-size="23.2" text-anchor="middle" fill="#fff">3</text>
<text transform="translate(1260.59,709.16) scale(1,1.01)" font-size="23.2" text-anchor="middle" fill="#fff">2</text>
<text transform="translate(1414.98,709.16) scale(1,1.01)" font-size="23.2" text-anchor="middle" fill="#fff">3</text>
<text transform="translate(488.63,745.62) scale(1,1.01)" font-size="23.2" text-anchor="middle" fill="#fff">2</text>
<text transform="translate(643.02,745.62) scale(1,1.01)" font-size="23.2" text-anchor="middle" fill="#fff">2</text>
<text transform="translate(694.48,745.62) scale(1,1.01)" font-size="23.2" text-anchor="middle" fill="#fff">2</text>
<text transform="translate(951.8,745.62) scale(1,1.01)" font-size="23.2" text-anchor="middle" fill="#fff">1</text>
<text transform="translate(1003.27,745.62) scale(1,1.01)" font-size="23.2" text-anchor="middle" fill="#fff">2</text>
<text transform="translate(1106.2,745.62) scale(1,1.01)" font-size="23.2" text-anchor="middle" fill="#fff">1</text>
<text transform="translate(1260.59,745.62) scale(1,1.01)" font-size="23.2" text-anchor="middle" fill="#fff">2</text>
<text transform="translate(1312.05,745.62) scale(1,1.01)" font-size="23.2" text-anchor="middle" fill="#fff">3</text>
<text transform="translate(1363.52,745.62) scale(1,1.01)" font-size="23.2" text-anchor="middle" fill="#fff">4</text>
<text transform="translate(643.02,782.09) scale(1,1.01)" font-size="23.2" text-anchor="middle" fill="#fff"><tspan dy="2.4">&lt;</tspan><tspan dy="-2.4">1</tspan></text>
<text transform="translate(951.8,782.09) scale(1,1.01)" font-size="23.2" text-anchor="middle" fill="#fff">2</text>
<text transform="translate(1106.2,782.09) scale(1,1.01)" font-size="23.2" text-anchor="middle" fill="#fff"><tspan dy="2.4">&lt;</tspan><tspan dy="-2.4">1</tspan></text>
<text transform="translate(488.63,818.55) scale(1,1.01)" font-size="23.2" text-anchor="middle" fill="#fff"><tspan dy="2.4">&lt;</tspan><tspan dy="-2.4">1</tspan></text>
<text transform="translate(643.02,818.55) scale(1,1.01)" font-size="23.2" text-anchor="middle" fill="#fff"><tspan dy="2.4">&lt;</tspan><tspan dy="-2.4">1</tspan></text>
<text transform="translate(745.95,818.55) scale(1,1.01)" font-size="23.2" text-anchor="middle" fill="#fff">3</text>
<text transform="translate(797.41,818.55) scale(1,1.01)" font-size="23.2" text-anchor="middle" fill="#fff">2</text>
<text transform="translate(848.88,818.55) scale(1,1.01)" font-size="23.2" text-anchor="middle" fill="#fff">2</text>
<text transform="translate(951.8,818.55) scale(1,1.01)" font-size="23.2" text-anchor="middle" fill="#fff">7</text>
<text transform="translate(1054.73,818.55) scale(1,1.01)" font-size="23.2" text-anchor="middle" fill="#fff">2</text>
<text transform="translate(1106.2,818.55) scale(1,1.01)" font-size="23.2" text-anchor="middle" fill="#fff"><tspan dy="2.4">&lt;</tspan><tspan dy="-2.4">1</tspan></text>
<text transform="translate(1157.66,818.55) scale(1,1.01)" font-size="23.2" text-anchor="middle" fill="#fff">3</text>
<text transform="translate(1260.59,818.55) scale(1,1.01)" font-size="23.2" text-anchor="middle" fill="#fff"><tspan dy="2.4">&lt;</tspan><tspan dy="-2.4">1</tspan></text>
<text transform="translate(488.63,855.02) scale(1,1.01)" font-size="23.2" text-anchor="middle" fill="#fff"><tspan dy="2.4">&lt;</tspan><tspan dy="-2.4">1</tspan></text>
<text transform="translate(951.8,855.02) scale(1,1.01)" font-size="23.2" text-anchor="middle" fill="#fff">1</text>
<text transform="translate(1003.27,855.02) scale(1,1.01)" font-size="23.2" text-anchor="middle" fill="#fff"><tspan dy="2.4">&lt;</tspan><tspan dy="-2.4">1</tspan></text>
<text transform="translate(1054.73,855.02) scale(1,1.01)" font-size="23.2" text-anchor="middle" fill="#fff">2</text>
<text transform="translate(900.34,891.48) scale(1,1.01)" font-size="23.2" text-anchor="middle" fill="#fff">20</text>
<text transform="translate(643.02,927.95) scale(1,1.01)" font-size="23.2" text-anchor="middle" fill="#fff"><tspan dy="2.4">&lt;</tspan><tspan dy="-2.4">1</tspan></text>
<text transform="translate(900.34,927.95) scale(1,1.01)" font-size="23.2" text-anchor="middle" fill="#fff">7</text>
<text transform="translate(1106.2,927.95) scale(1,1.01)" font-size="23.2" text-anchor="middle" fill="#fff"><tspan dy="2.4">&lt;</tspan><tspan dy="-2.4">1</tspan></text>
<text transform="translate(488.63,964.41) scale(1,1.01)" font-size="23.2" text-anchor="middle" fill="#fff">1</text>
<text transform="translate(540.09,964.41) scale(1,1.01)" font-size="23.2" text-anchor="middle" fill="#fff">66</text>
<text transform="translate(643.02,964.41) scale(1,1.01)" font-size="23.2" text-anchor="middle" fill="#fff">1</text>
<text transform="translate(951.8,964.41) scale(1,1.01)" font-size="23.2" text-anchor="middle" fill="#fff"><tspan dy="2.4">&lt;</tspan><tspan dy="-2.4">1</tspan></text>
<text transform="translate(1003.27,964.41) scale(1,1.01)" font-size="23.2" text-anchor="middle" fill="#fff"><tspan dy="2.4">&lt;</tspan><tspan dy="-2.4">1</tspan></text>
<text transform="translate(1054.73,964.41) scale(1,1.01)" font-size="23.2" text-anchor="middle" fill="#fff">6</text>
<text transform="translate(1106.2,964.41) scale(1,1.01)" font-size="23.2" text-anchor="middle" fill="#fff"><tspan dy="2.4">&lt;</tspan><tspan dy="-2.4">1</tspan></text>
<text transform="translate(1260.59,964.41) scale(1,1.01)" font-size="23.2" text-anchor="middle" fill="#fff"><tspan dy="2.4">&lt;</tspan><tspan dy="-2.4">1</tspan></text>
<text transform="translate(1312.05,964.41) scale(1,1.01)" font-size="23.2" text-anchor="middle" fill="#fff">3</text>
<text transform="translate(1363.52,964.41) scale(1,1.01)" font-size="23.2" text-anchor="middle" fill="#fff">2</text>
<text transform="translate(488.63,1000.88) scale(1,1.01)" font-size="23.2" text-anchor="middle" fill="#fff"><tspan dy="2.4">&lt;</tspan><tspan dy="-2.4">1</tspan></text>
<text transform="translate(848.88,1000.88) scale(1,1.01)" font-size="23.2" text-anchor="middle" fill="#fff">2</text>
<text transform="translate(488.63,1037.34) scale(1,1.01)" font-size="23.2" text-anchor="middle" fill="#fff"><tspan dy="2.4">&lt;</tspan><tspan dy="-2.4">1</tspan></text>
<text transform="translate(694.48,1037.34) scale(1,1.01)" font-size="23.2" text-anchor="middle" fill="#fff">2</text>
<text transform="translate(848.88,1037.34) scale(1,1.01)" font-size="23.2" text-anchor="middle" fill="#fff">2</text>
<text transform="translate(488.63,1073.81) scale(1,1.01)" font-size="23.2" text-anchor="middle" fill="#fff">2</text>
<text transform="translate(643.02,1073.81) scale(1,1.01)" font-size="23.2" text-anchor="middle" fill="#fff">1</text>
<text transform="translate(694.48,1073.81) scale(1,1.01)" font-size="23.2" text-anchor="middle" fill="#fff">7</text>
<text transform="translate(848.88,1073.81) scale(1,1.01)" font-size="23.2" text-anchor="middle" fill="#fff">25</text>
<text transform="translate(900.34,1073.81) scale(1,1.01)" font-size="23.2" text-anchor="middle" fill="#fff">2</text>
<text transform="translate(951.8,1073.81) scale(1,1.01)" font-size="23.2" text-anchor="middle" fill="#fff">2</text>
<text transform="translate(1003.27,1073.81) scale(1,1.01)" font-size="23.2" text-anchor="middle" fill="#fff">2</text>
<text transform="translate(1054.73,1073.81) scale(1,1.01)" font-size="23.2" text-anchor="middle" fill="#fff">4</text>
<text transform="translate(1106.2,1073.81) scale(1,1.01)" font-size="23.2" text-anchor="middle" fill="#fff">3</text>
<text transform="translate(1157.66,1073.81) scale(1,1.01)" font-size="23.2" text-anchor="middle" fill="#fff">3</text>
<text transform="translate(1209.12,1073.81) scale(1,1.01)" font-size="23.2" text-anchor="middle" fill="#fff">5</text>
<text transform="translate(1260.59,1073.81) scale(1,1.01)" font-size="23.2" text-anchor="middle" fill="#fff">2</text>
<text transform="translate(1569.37,1073.81) scale(1,1.01)" font-size="23.2" text-anchor="middle" fill="#fff">3</text>
<text transform="translate(488.63,1110.27) scale(1,1.01)" font-size="23.2" text-anchor="middle" fill="#fff">4</text>
<text transform="translate(643.02,1110.27) scale(1,1.01)" font-size="23.2" text-anchor="middle" fill="#fff"><tspan dy="2.4">&lt;</tspan><tspan dy="-2.4">1</tspan></text>
<text transform="translate(694.48,1110.27) scale(1,1.01)" font-size="23.2" text-anchor="middle" fill="#fff"><tspan dy="2.4">&lt;</tspan><tspan dy="-2.4">1</tspan></text>
<text transform="translate(745.95,1110.27) scale(1,1.01)" font-size="23.2" text-anchor="middle" fill="#fff">3</text>
<text transform="translate(848.88,1110.27) scale(1,1.01)" font-size="23.2" text-anchor="middle" fill="#fff">21</text>
<text transform="translate(900.34,1110.27) scale(1,1.01)" font-size="23.2" text-anchor="middle" fill="#fff">2</text>
<text transform="translate(951.8,1110.27) scale(1,1.01)" font-size="23.2" text-anchor="middle" fill="#fff">21</text>
<text transform="translate(1003.27,1110.27) scale(1,1.01)" font-size="23.2" text-anchor="middle" fill="#fff">3</text>
<text transform="translate(1054.73,1110.27) scale(1,1.01)" font-size="23.2" text-anchor="middle" fill="#fff">4</text>
<text transform="translate(1106.2,1110.27) scale(1,1.01)" font-size="23.2" text-anchor="middle" fill="#fff">8</text>
<text transform="translate(1209.12,1110.27) scale(1,1.01)" font-size="23.2" text-anchor="middle" fill="#fff">5</text>
<text transform="translate(1260.59,1110.27) scale(1,1.01)" font-size="23.2" text-anchor="middle" fill="#fff">14</text>
<text transform="translate(1312.05,1110.27) scale(1,1.01)" font-size="23.2" text-anchor="middle" fill="#fff">3</text>
<text transform="translate(1363.52,1110.27) scale(1,1.01)" font-size="23.2" text-anchor="middle" fill="#fff">6</text>
<text transform="translate(1414.98,1110.27) scale(1,1.01)" font-size="23.2" text-anchor="middle" fill="#fff">3</text>
<text transform="translate(1466.44,1110.27) scale(1,1.01)" font-size="23.2" text-anchor="middle" fill="#fff">2</text>
<text transform="translate(1517.91,1110.27) scale(1,1.01)" font-size="23.2" text-anchor="middle" fill="#fff">2</text>
<text transform="translate(1569.37,1110.27) scale(1,1.01)" font-size="23.2" text-anchor="middle" fill="#fff">3</text>
<text transform="translate(488.63,1146.74) scale(1,1.01)" font-size="23.2" text-anchor="middle" fill="#fff">2</text>
<text transform="translate(694.48,1146.74) scale(1,1.01)" font-size="23.2" text-anchor="middle" fill="#fff">2</text>
<text transform="translate(745.95,1146.74) scale(1,1.01)" font-size="23.2" text-anchor="middle" fill="#fff">7</text>
<text transform="translate(848.88,1146.74) scale(1,1.01)" font-size="23.2" text-anchor="middle" fill="#fff">2</text>
<text transform="translate(1003.27,1146.74) scale(1,1.01)" font-size="23.2" text-anchor="middle" fill="#fff"><tspan dy="2.4">&lt;</tspan><tspan dy="-2.4">1</tspan></text>
<text transform="translate(1106.2,1146.74) scale(1,1.01)" font-size="23.2" text-anchor="middle" fill="#fff">1</text>
<text transform="translate(1260.59,1146.74) scale(1,1.01)" font-size="23.2" text-anchor="middle" fill="#fff"><tspan dy="2.4">&lt;</tspan><tspan dy="-2.4">1</tspan></text>
<text transform="translate(1517.91,1146.74) scale(1,1.01)" font-size="23.2" text-anchor="middle" fill="#fff">1</text>
<text transform="translate(488.63,1183.2) scale(1,1.01)" font-size="23.2" text-anchor="middle" fill="#fff"><tspan dy="2.4">&lt;</tspan><tspan dy="-2.4">1</tspan></text>
<text transform="translate(643.02,1183.2) scale(1,1.01)" font-size="23.2" text-anchor="middle" fill="#fff"><tspan dy="2.4">&lt;</tspan><tspan dy="-2.4">1</tspan></text>
<text transform="translate(694.48,1183.2) scale(1,1.01)" font-size="23.2" text-anchor="middle" fill="#fff"><tspan dy="2.4">&lt;</tspan><tspan dy="-2.4">1</tspan></text>
<text transform="translate(745.95,1183.2) scale(1,1.01)" font-size="23.2" text-anchor="middle" fill="#fff">30</text>
<text transform="translate(797.41,1183.2) scale(1,1.01)" font-size="23.2" text-anchor="middle" fill="#fff">2</text>
<text transform="translate(951.8,1183.2) scale(1,1.01)" font-size="23.2" text-anchor="middle" fill="#fff"><tspan dy="2.4">&lt;</tspan><tspan dy="-2.4">1</tspan></text>
<text transform="translate(1003.27,1183.2) scale(1,1.01)" font-size="23.2" text-anchor="middle" fill="#fff"><tspan dy="2.4">&lt;</tspan><tspan dy="-2.4">1</tspan></text>
<text transform="translate(1106.2,1183.2) scale(1,1.01)" font-size="23.2" text-anchor="middle" fill="#fff">3</text>
<text transform="translate(1312.05,1183.2) scale(1,1.01)" font-size="23.2" text-anchor="middle" fill="#fff">1</text>
<text transform="translate(951.8,1219.67) scale(1,1.01)" font-size="23.2" text-anchor="middle" fill="#fff">1</text>
<text transform="translate(488.63,1256.13) scale(1,1.01)" font-size="23.2" text-anchor="middle" fill="#fff"><tspan dy="2.4">&lt;</tspan><tspan dy="-2.4">1</tspan></text>
<text transform="translate(694.48,1256.13) scale(1,1.01)" font-size="23.2" text-anchor="middle" fill="#fff"><tspan dy="2.4">&lt;</tspan><tspan dy="-2.4">1</tspan></text>
<text transform="translate(951.8,1256.13) scale(1,1.01)" font-size="23.2" text-anchor="middle" fill="#fff">1</text>
<text transform="translate(643.02,1292.6) scale(1,1.01)" font-size="23.2" text-anchor="middle" fill="#fff"><tspan dy="2.4">&lt;</tspan><tspan dy="-2.4">1</tspan></text>
<text transform="translate(694.48,1292.6) scale(1,1.01)" font-size="23.2" text-anchor="middle" fill="#fff"><tspan dy="2.4">&lt;</tspan><tspan dy="-2.4">1</tspan></text>
<text transform="translate(1106.2,1292.6) scale(1,1.01)" font-size="23.2" text-anchor="middle" fill="#fff">1</text>
<text transform="translate(488.63,1329.06) scale(1,1.01)" font-size="23.2" text-anchor="middle" fill="#fff"><tspan dy="2.4">&lt;</tspan><tspan dy="-2.4">1</tspan></text>
<text transform="translate(591.56,1329.06) scale(1,1.01)" font-size="23.2" text-anchor="middle" fill="#fff">4</text>
<text transform="translate(643.02,1329.06) scale(1,1.01)" font-size="23.2" text-anchor="middle" fill="#fff">5</text>
<text transform="translate(694.48,1329.06) scale(1,1.01)" font-size="23.2" text-anchor="middle" fill="#fff"><tspan dy="2.4">&lt;</tspan><tspan dy="-2.4">1</tspan></text>
<text transform="translate(745.95,1329.06) scale(1,1.01)" font-size="23.2" text-anchor="middle" fill="#fff">3</text>
<text transform="translate(797.41,1329.06) scale(1,1.01)" font-size="23.2" text-anchor="middle" fill="#fff">7</text>
<text transform="translate(848.88,1329.06) scale(1,1.01)" font-size="23.2" text-anchor="middle" fill="#fff">2</text>
<text transform="translate(900.34,1329.06) scale(1,1.01)" font-size="23.2" text-anchor="middle" fill="#fff">2</text>
<text transform="translate(951.8,1329.06) scale(1,1.01)" font-size="23.2" text-anchor="middle" fill="#fff"><tspan dy="2.4">&lt;</tspan><tspan dy="-2.4">1</tspan></text>
<text transform="translate(1003.27,1329.06) scale(1,1.01)" font-size="23.2" text-anchor="middle" fill="#fff">3</text>
<text transform="translate(1054.73,1329.06) scale(1,1.01)" font-size="23.2" text-anchor="middle" fill="#fff">4</text>
<text transform="translate(1106.2,1329.06) scale(1,1.01)" font-size="23.2" text-anchor="middle" fill="#fff">3</text>
<text transform="translate(1260.59,1329.06) scale(1,1.01)" font-size="23.2" text-anchor="middle" fill="#fff"><tspan dy="2.4">&lt;</tspan><tspan dy="-2.4">1</tspan></text>
<text transform="translate(1312.05,1329.06) scale(1,1.01)" font-size="23.2" text-anchor="middle" fill="#fff">3</text>
<text transform="translate(1466.44,1329.06) scale(1,1.01)" font-size="23.2" text-anchor="middle" fill="#fff">2</text>
<text transform="translate(1517.91,1329.06) scale(1,1.01)" font-size="23.2" text-anchor="middle" fill="#fff">1</text>
<text transform="translate(488.63,1365.53) scale(1,1.01)" font-size="23.2" text-anchor="middle" fill="#fff"><tspan dy="2.4">&lt;</tspan><tspan dy="-2.4">1</tspan></text>
<text transform="translate(591.56,1365.53) scale(1,1.01)" font-size="23.2" text-anchor="middle" fill="#fff">4</text>
<text transform="translate(643.02,1365.53) scale(1,1.01)" font-size="23.2" text-anchor="middle" fill="#fff">1</text>
<text transform="translate(1209.12,1365.53) scale(1,1.01)" font-size="23.2" text-anchor="middle" fill="#fff">5</text>
<text transform="translate(1260.59,1365.53) scale(1,1.01)" font-size="23.2" text-anchor="middle" fill="#fff"><tspan dy="2.4">&lt;</tspan><tspan dy="-2.4">1</tspan></text>
<text transform="translate(1517.91,1365.53) scale(1,1.01)" font-size="23.2" text-anchor="middle" fill="#fff">2</text>
<text transform="translate(1312.05,1401.99) scale(1,1.01)" font-size="23.2" text-anchor="middle" fill="#fff">1</text>
<text transform="translate(694.48,1438.46) scale(1,1.01)" font-size="23.2" text-anchor="middle" fill="#fff"><tspan dy="2.4">&lt;</tspan><tspan dy="-2.4">1</tspan></text>
<text transform="translate(797.41,1438.46) scale(1,1.01)" font-size="23.2" text-anchor="middle" fill="#fff">2</text>
<text transform="translate(1106.2,1438.46) scale(1,1.01)" font-size="23.2" text-anchor="middle" fill="#fff"><tspan dy="2.4">&lt;</tspan><tspan dy="-2.4">1</tspan></text>
<text transform="translate(1363.52,1438.46) scale(1,1.01)" font-size="23.2" text-anchor="middle" fill="#fff">2</text>
<text transform="translate(488.63,1474.92) scale(1,1.01)" font-size="23.2" text-anchor="middle" fill="#fff">72</text>
<text transform="translate(1003.27,1474.92) scale(1,1.01)" font-size="23.2" text-anchor="middle" fill="#fff"><tspan dy="2.4">&lt;</tspan><tspan dy="-2.4">1</tspan></text>
<text transform="translate(488.63,1511.39) scale(1,1.01)" font-size="23.2" text-anchor="middle" fill="#fff"><tspan dy="2.4">&lt;</tspan><tspan dy="-2.4">1</tspan></text>
<text transform="translate(694.48,1511.39) scale(1,1.01)" font-size="23.2" text-anchor="middle" fill="#fff"><tspan dy="2.4">&lt;</tspan><tspan dy="-2.4">1</tspan></text>
<text transform="translate(797.41,1511.39) scale(1,1.01)" font-size="23.2" text-anchor="middle" fill="#fff">5</text>
<text transform="translate(1054.73,1511.39) scale(1,1.01)" font-size="23.2" text-anchor="middle" fill="#fff">4</text>
<text transform="translate(1106.2,1511.39) scale(1,1.01)" font-size="23.2" text-anchor="middle" fill="#fff">1</text>
<text transform="translate(1517.91,1511.39) scale(1,1.01)" font-size="23.2" text-anchor="middle" fill="#fff">2</text>
<text transform="translate(797.41,1547.85) scale(1,1.01)" font-size="23.2" text-anchor="middle" fill="#fff">7</text>
<text transform="translate(1106.2,1547.85) scale(1,1.01)" font-size="23.2" text-anchor="middle" fill="#fff">1</text>
<text transform="translate(488.63,1584.32) scale(1,1.01)" font-size="23.2" text-anchor="middle" fill="#fff">5</text>
<text transform="translate(643.02,1584.32) scale(1,1.01)" font-size="23.2" text-anchor="middle" fill="#fff">2</text>
<text transform="translate(694.48,1584.32) scale(1,1.01)" font-size="23.2" text-anchor="middle" fill="#fff">3</text>
<text transform="translate(745.95,1584.32) scale(1,1.01)" font-size="23.2" text-anchor="middle" fill="#fff">3</text>
<text transform="translate(797.41,1584.32) scale(1,1.01)" font-size="23.2" text-anchor="middle" fill="#fff">14</text>
<text transform="translate(951.8,1584.32) scale(1,1.01)" font-size="23.2" text-anchor="middle" fill="#fff">4</text>
<text transform="translate(1003.27,1584.32) scale(1,1.01)" font-size="23.2" text-anchor="middle" fill="#fff"><tspan dy="2.4">&lt;</tspan><tspan dy="-2.4">1</tspan></text>
<text transform="translate(1054.73,1584.32) scale(1,1.01)" font-size="23.2" text-anchor="middle" fill="#fff">32</text>
<text transform="translate(1106.2,1584.32) scale(1,1.01)" font-size="23.2" text-anchor="middle" fill="#fff">14</text>
<text transform="translate(1209.12,1584.32) scale(1,1.01)" font-size="23.2" text-anchor="middle" fill="#fff">14</text>
<text transform="translate(1260.59,1584.32) scale(1,1.01)" font-size="23.2" text-anchor="middle" fill="#fff"><tspan dy="2.4">&lt;</tspan><tspan dy="-2.4">1</tspan></text>
<text transform="translate(1414.98,1584.32) scale(1,1.01)" font-size="23.2" text-anchor="middle" fill="#fff">11</text>
<text transform="translate(694.48,1620.78) scale(1,1.01)" font-size="23.2" text-anchor="middle" fill="#fff">3</text>
<text transform="translate(797.41,1620.78) scale(1,1.01)" font-size="23.2" text-anchor="middle" fill="#fff">19</text>
<text transform="translate(951.8,1620.78) scale(1,1.01)" font-size="23.2" text-anchor="middle" fill="#fff"><tspan dy="2.4">&lt;</tspan><tspan dy="-2.4">1</tspan></text>
<text transform="translate(1054.73,1620.78) scale(1,1.01)" font-size="23.2" text-anchor="middle" fill="#fff">2</text>
<text transform="translate(1106.2,1620.78) scale(1,1.01)" font-size="23.2" text-anchor="middle" fill="#fff">1</text>
<text transform="translate(1312.05,1620.78) scale(1,1.01)" font-size="23.2" text-anchor="middle" fill="#fff">1</text>
<text transform="translate(591.56,1657.25) scale(1,1.01)" font-size="23.2" text-anchor="middle" fill="#fff">2</text>
<text transform="translate(694.48,1657.25) scale(1,1.01)" font-size="23.2" text-anchor="middle" fill="#fff"><tspan dy="2.4">&lt;</tspan><tspan dy="-2.4">1</tspan></text>
<text transform="translate(488.63,1730.18) scale(1,1.01)" font-size="23.2" text-anchor="middle" fill="#fff">7</text>
<text transform="translate(745.95,1766.64) scale(1,1.01)" font-size="23.2" text-anchor="middle" fill="#fff">3</text>
<text transform="translate(848.88,1766.64) scale(1,1.01)" font-size="23.2" text-anchor="middle" fill="#fff">2</text>
<text transform="translate(488.63,1803.11) scale(1,1.01)" font-size="23.2" text-anchor="middle" fill="#fff"><tspan dy="2.4">&lt;</tspan><tspan dy="-2.4">1</tspan></text>
<text transform="translate(591.56,1803.11) scale(1,1.01)" font-size="23.2" text-anchor="middle" fill="#fff">100</text>
<text transform="translate(643.02,1803.11) scale(1,1.01)" font-size="23.2" text-anchor="middle" fill="#fff">97</text>
<text transform="translate(745.95,1803.11) scale(1,1.01)" font-size="23.2" text-anchor="middle" fill="#fff">3</text>
<text transform="translate(797.41,1803.11) scale(1,1.01)" font-size="23.2" text-anchor="middle" fill="#fff">12</text>
<text transform="translate(951.8,1803.11) scale(1,1.01)" font-size="23.2" text-anchor="middle" fill="#fff">3</text>
<text transform="translate(1003.27,1803.11) scale(1,1.01)" font-size="23.2" text-anchor="middle" fill="#fff">7</text>
<text transform="translate(1054.73,1803.11) scale(1,1.01)" font-size="23.2" text-anchor="middle" fill="#fff">2</text>
<text transform="translate(1106.2,1803.11) scale(1,1.01)" font-size="23.2" text-anchor="middle" fill="#fff">1</text>
<text transform="translate(1157.66,1803.11) scale(1,1.01)" font-size="23.2" text-anchor="middle" fill="#fff">3</text>
<text transform="translate(1260.59,1803.11) scale(1,1.01)" font-size="23.2" text-anchor="middle" fill="#fff">2</text>
<text transform="translate(1312.05,1803.11) scale(1,1.01)" font-size="23.2" text-anchor="middle" fill="#fff">1</text>
<text transform="translate(1054.73,1839.57) scale(1,1.01)" font-size="23.2" text-anchor="middle" fill="#fff">2</text>
<text transform="translate(1106.2,1839.57) scale(1,1.01)" font-size="23.2" text-anchor="middle" fill="#fff">1</text>
<text transform="translate(1260.59,1876.04) scale(1,1.01)" font-size="23.2" text-anchor="middle" fill="#fff">2</text>
<text transform="translate(1517.91,1912.5) scale(1,1.01)" font-size="23.2" text-anchor="middle" fill="#fff">82</text>
<text transform="translate(900.34,1948.97) scale(1,1.01)" font-size="23.2" text-anchor="middle" fill="#fff">2</text>
<text transform="translate(1003.27,1948.97) scale(1,1.01)" font-size="23.2" text-anchor="middle" fill="#fff"><tspan dy="2.4">&lt;</tspan><tspan dy="-2.4">1</tspan></text>
<rect x="457.75" y="500" width="1142.75" height="1458.6" fill="none" stroke="#000" stroke-width="3.7" stroke-linejoin="round"/>
<text transform="translate(443,526.23) scale(1,1.02)" font-size="24.3" text-anchor="end" font-style="italic">CDK4 amp</text>
<text transform="translate(443,562.7) scale(1,1.02)" font-size="24.3" text-anchor="end" font-style="italic">CDKN2A del</text>
<text transform="translate(443,599.16) scale(1,1.02)" font-size="24.3" text-anchor="end" font-style="italic">TM del</text>
<text transform="translate(443,599.16) scale(1,1.02)" font-size="24.3" text-anchor="end" font-style="italic">A</text>
<text transform="translate(443,635.63) scale(1,1.02)" font-size="24.3" text-anchor="end" font-style="italic">BARD1 del</text>
<text transform="translate(443,672.09) scale(1,1.02)" font-size="24.3" text-anchor="end" font-style="italic">BRCA1 del</text>
<text transform="translate(443,708.56) scale(1,1.02)" font-size="24.3" text-anchor="end" font-style="italic">BRCA2 del</text>
<text transform="translate(443,745.02) scale(1,1.02)" font-size="24.3" text-anchor="end" font-style="italic">CHEK2 del</text>
<text transform="translate(443,781.49) scale(1,1.02)" font-size="24.3" text-anchor="end" font-style="italic">ERCC2 del</text>
<text transform="translate(443,817.95) scale(1,1.02)" font-size="24.3" text-anchor="end" font-style="italic">RAD51B del</text>
<text transform="translate(443,854.42) scale(1,1.02)" font-size="24.3" text-anchor="end" font-style="italic">RAD51D del</text>
<text transform="translate(443,890.88) scale(1,1.02)" font-size="24.3" text-anchor="end" font-style="italic">IDH1</text>
<text transform="translate(443,927.35) scale(1,1.02)" font-size="24.3" text-anchor="end" font-style="italic">IDH2</text>
<text transform="translate(443,963.81) scale(1,1.02)" font-size="24.3" text-anchor="end" font-style="italic">SMARCB1 del</text>
<text transform="translate(443,1000.28) scale(1,1.02)" font-size="24.3" text-anchor="end" font-style="italic">AKT1</text>
<text transform="translate(443,1036.74) scale(1,1.02)" font-size="24.3" text-anchor="end" font-style="italic">TOR</text>
<text transform="translate(443,1036.74) scale(1,1.02)" font-size="24.3" text-anchor="end" font-style="italic">M</text>
<text transform="translate(443,1073.21) scale(1,1.02)" font-size="24.3" text-anchor="end" font-style="italic">PIK3CA</text>
<text transform="translate(443,1109.67) scale(1,1.02)" font-size="24.3" text-anchor="end" font-style="italic">PTEN del</text>
<text transform="translate(443,1146.14) scale(1,1.02)" font-size="24.3" text-anchor="end" font-style="italic">TSC1 del</text>
<text transform="translate(443,1182.6) scale(1,1.02)" font-size="24.3" text-anchor="end" font-style="italic">TSC2 del</text>
<text transform="translate(443,1219.07) scale(1,1.02)" font-size="24.3" text-anchor="end" font-style="italic">ALK fus</text>
<text transform="translate(443,1255.53) scale(1,1.02)" font-size="24.3" text-anchor="end" font-style="italic">BRAF</text>
<text transform="translate(443,1292) scale(1,1.02)" font-size="24.3" text-anchor="end" font-style="italic">BRAF fus</text>
<text transform="translate(443,1328.46) scale(1,1.02)" font-size="24.3" text-anchor="end" font-style="italic">FGFR1 amp</text>
<text transform="translate(443,1364.93) scale(1,1.02)" font-size="24.3" text-anchor="end" font-style="italic">FGFR1</text>
<text transform="translate(443,1401.39) scale(1,1.02)" font-size="24.3" text-anchor="end" font-style="italic">FGFR2 fus</text>
<text transform="translate(443,1437.86) scale(1,1.02)" font-size="24.3" text-anchor="end" font-style="italic">HRAS</text>
<text transform="translate(443,1474.32) scale(1,1.02)" font-size="24.3" text-anchor="end" font-style="italic">KIT</text>
<text transform="translate(443,1510.79) scale(1,1.02)" font-size="24.3" text-anchor="end" font-style="italic">KRAS</text>
<text transform="translate(443,1547.25) scale(1,1.02)" font-size="24.3" text-anchor="end" font-style="italic">MET amp</text>
<text transform="translate(443,1583.72) scale(1,1.02)" font-size="24.3" text-anchor="end" font-style="italic">NF1 del</text>
<text transform="translate(443,1620.18) scale(1,1.02)" font-size="24.3" text-anchor="end" font-style="italic">NRAS</text>
<text transform="translate(443,1656.65) scale(1,1.02)" font-size="24.3" text-anchor="end" font-style="italic">NTRK1 fus</text>
<text transform="translate(443,1693.11) scale(1,1.02)" font-size="24.3" text-anchor="end" font-style="italic">NTRK2 fus</text>
<text transform="translate(443,1729.58) scale(1,1.02)" font-size="24.3" text-anchor="end" font-style="italic">PDGFRA</text>
<text transform="translate(443,1766.04) scale(1,1.02)" font-size="24.3" text-anchor="end" font-style="italic">OS1 fus</text>
<text transform="translate(443,1766.04) scale(1,1.02)" font-size="24.3" text-anchor="end" font-style="italic">R</text>
<text transform="translate(443,1802.51) scale(1,1.02)" font-size="24.3" text-anchor="end" font-style="italic">MDM2 amp</text>
<text transform="translate(443,1838.97) scale(1,1.02)" font-size="24.3" text-anchor="end" font-style="italic">CDK12 del</text>
<text transform="translate(443,1875.44) scale(1,1.02)" font-size="24.3" text-anchor="end" font-style="italic">ESR1</text>
<text transform="translate(443,1911.9) scale(1,1.02)" font-size="24.3" text-anchor="end" font-style="italic">FLI1−EWSR1 fus</text>
<text transform="translate(443,1948.37) scale(1,1.02)" font-size="24.3" text-anchor="end" font-style="italic">PTCH1 del</text>
<line x1="248.2" x2="248.2" y1="513.05" y2="566.95" stroke="#000" stroke-width="5.9" stroke-linecap="round"/>
<text transform="translate(225.2,555) scale(1,1.04)" font-size="26.6" text-anchor="end">Cell cycle</text>
<line x1="248.2" x2="248.2" y1="583.05" y2="855.65" stroke="#000" stroke-width="5.9" stroke-linecap="round"/>
<text transform="translate(229.5,736.1) scale(1,1.04)" font-size="26.6" text-anchor="end">DDR</text>
<line x1="248.2" x2="248.2" y1="872.05" y2="970.15" stroke="#000" stroke-width="5.9" stroke-linecap="round"/>
<text transform="translate(225.3,934.8) scale(1,1.04)" font-size="26.6" text-anchor="end">Epigenetic</text>
<line x1="248.2" x2="248.2" y1="988.85" y2="1183.95" stroke="#000" stroke-width="5.9" stroke-linecap="round"/>
<text transform="translate(229.4,1091.7) scale(1,1.04)" font-size="26.6" text-anchor="end">PI3K</text>
<line x1="248.2" x2="248.2" y1="1203.05" y2="1767.45" stroke="#000" stroke-width="5.9" stroke-linecap="round"/>
<text transform="translate(225.2,1475.3) scale(1,1.04)" font-size="26.6" text-anchor="end">RTK/RAS</text>
<rect x="245.6" y="1777.1" width="5.2" height="31.7" rx="2.2" fill="#4d4d4d" stroke="#0a0a0a" stroke-width="1.8"/>
<text transform="translate(229.7,1805.9) scale(1,1.04)" font-size="26.6" text-anchor="end" font-style="italic">TP53</text>
<rect x="465.47" y="1971.3" width="46.32" height="25.5" fill="#f8e596"/>
<rect x="465.47" y="1996.8" width="46.32" height="129.6" fill="#f5ab03"/>
<rect x="465.47" y="2126.4" width="46.32" height="41.5" fill="#e06e04"/>
<rect x="465.47" y="2167.9" width="46.32" height="28.8" fill="#761e5e"/>
<rect x="516.93" y="1971.3" width="46.32" height="46.4" fill="#f8e596"/>
<rect x="516.93" y="2017.7" width="46.32" height="171.2" fill="#f5ab03"/>
<rect x="516.93" y="2188.9" width="46.32" height="7.8" fill="#e06e04"/>
<rect x="568.4" y="1971.3" width="46.32" height="9" fill="#f5ab03"/>
<rect x="568.4" y="1980.3" width="46.32" height="192.6" fill="#e06e04"/>
<rect x="568.4" y="2172.9" width="46.32" height="23.8" fill="#761e5e"/>
<rect x="619.86" y="1972.5" width="46.32" height="8.2" fill="#f5ab03"/>
<rect x="619.86" y="1980.7" width="46.32" height="178" fill="#e06e04"/>
<rect x="619.86" y="2158.7" width="46.32" height="38" fill="#761e5e"/>
<rect x="671.33" y="1971.3" width="46.32" height="142.4" fill="#f8e596"/>
<rect x="671.33" y="2113.7" width="46.32" height="62.8" fill="#f5ab03"/>
<rect x="671.33" y="2176.5" width="46.32" height="15.4" fill="#e06e04"/>
<rect x="671.33" y="2191.9" width="46.32" height="4.8" fill="#761e5e"/>
<rect x="722.79" y="1971.3" width="46.32" height="82.5" fill="#f8e596"/>
<rect x="722.79" y="2053.8" width="46.32" height="97.7" fill="#f5ab03"/>
<rect x="722.79" y="2151.5" width="46.32" height="37.7" fill="#e06e04"/>
<rect x="722.79" y="2189.2" width="46.32" height="7.5" fill="#761e5e"/>
<rect x="774.25" y="1971.3" width="46.32" height="94" fill="#f8e596"/>
<rect x="774.25" y="2065.3" width="46.32" height="78.7" fill="#f5ab03"/>
<rect x="774.25" y="2144" width="46.32" height="41.9" fill="#e06e04"/>
<rect x="774.25" y="2185.9" width="46.32" height="10.8" fill="#761e5e"/>
<rect x="825.72" y="1971.3" width="46.32" height="121.8" fill="#f8e596"/>
<rect x="825.72" y="2093.1" width="46.32" height="65.8" fill="#f5ab03"/>
<rect x="825.72" y="2158.9" width="46.32" height="23.3" fill="#e06e04"/>
<rect x="825.72" y="2182.2" width="46.32" height="14.5" fill="#761e5e"/>
<rect x="877.18" y="1971.3" width="46.32" height="142.7" fill="#f8e596"/>
<rect x="877.18" y="2114" width="46.32" height="66.2" fill="#f5ab03"/>
<rect x="877.18" y="2180.2" width="46.32" height="16.5" fill="#e06e04"/>
<rect x="928.65" y="1971.3" width="46.32" height="107.8" fill="#f8e596"/>
<rect x="928.65" y="2079.1" width="46.32" height="91.8" fill="#f5ab03"/>
<rect x="928.65" y="2170.9" width="46.32" height="16.1" fill="#e06e04"/>
<rect x="928.65" y="2187" width="46.32" height="9.7" fill="#761e5e"/>
<rect x="980.11" y="1971.3" width="46.32" height="134.5" fill="#f8e596"/>
<rect x="980.11" y="2105.8" width="46.32" height="64.7" fill="#f5ab03"/>
<rect x="980.11" y="2170.5" width="46.32" height="17.4" fill="#e06e04"/>
<rect x="980.11" y="2187.9" width="46.32" height="8.8" fill="#761e5e"/>
<rect x="1031.57" y="1971.3" width="46.32" height="49.6" fill="#f8e596"/>
<rect x="1031.57" y="2020.9" width="46.32" height="94.3" fill="#f5ab03"/>
<rect x="1031.57" y="2115.2" width="46.32" height="58.7" fill="#e06e04"/>
<rect x="1031.57" y="2173.9" width="46.32" height="22.8" fill="#761e5e"/>
<rect x="1083.04" y="1971.3" width="46.32" height="124.3" fill="#f8e596"/>
<rect x="1083.04" y="2095.6" width="46.32" height="57.4" fill="#f5ab03"/>
<rect x="1083.04" y="2153" width="46.32" height="28" fill="#e06e04"/>
<rect x="1083.04" y="2181" width="46.32" height="15.7" fill="#761e5e"/>
<rect x="1134.5" y="1971.3" width="46.32" height="186.6" fill="#f8e596"/>
<rect x="1134.5" y="2157.9" width="46.32" height="23.1" fill="#f5ab03"/>
<rect x="1134.5" y="2181" width="46.32" height="15.7" fill="#e06e04"/>
<rect x="1185.97" y="1971.3" width="46.32" height="153.7" fill="#f8e596"/>
<rect x="1185.97" y="2125" width="46.32" height="51.2" fill="#f5ab03"/>
<rect x="1185.97" y="2176.2" width="46.32" height="20.5" fill="#e06e04"/>
<rect x="1237.43" y="1971.3" width="46.32" height="165.6" fill="#f8e596"/>
<rect x="1237.43" y="2136.9" width="46.32" height="39.7" fill="#f5ab03"/>
<rect x="1237.43" y="2176.6" width="46.32" height="16.4" fill="#e06e04"/>
<rect x="1237.43" y="2193" width="46.32" height="3.7" fill="#761e5e"/>
<rect x="1288.89" y="1971.3" width="46.32" height="194.7" fill="#f8e596"/>
<rect x="1288.89" y="2166" width="46.32" height="18.4" fill="#f5ab03"/>
<rect x="1288.89" y="2184.4" width="46.32" height="9" fill="#e06e04"/>
<rect x="1288.89" y="2193.4" width="46.32" height="3.3" fill="#761e5e"/>
<rect x="1340.36" y="1971.3" width="46.32" height="195.6" fill="#f8e596"/>
<rect x="1340.36" y="2166.9" width="46.32" height="29.8" fill="#f5ab03"/>
<rect x="1391.82" y="1971.3" width="46.32" height="148" fill="#f8e596"/>
<rect x="1391.82" y="2119.3" width="46.32" height="59.6" fill="#f5ab03"/>
<rect x="1391.82" y="2178.9" width="46.32" height="17.8" fill="#e06e04"/>
<rect x="1443.29" y="1971.3" width="46.32" height="199.6" fill="#f8e596"/>
<rect x="1443.29" y="2170.9" width="46.32" height="25.8" fill="#f5ab03"/>
<rect x="1494.75" y="1971.3" width="46.32" height="38.6" fill="#f8e596"/>
<rect x="1494.75" y="2009.9" width="46.32" height="155.2" fill="#f5ab03"/>
<rect x="1494.75" y="2165.1" width="46.32" height="24.8" fill="#e06e04"/>
<rect x="1494.75" y="2189.9" width="46.32" height="6.8" fill="#761e5e"/>
<rect x="1546.21" y="1971.3" width="46.32" height="180.2" fill="#f8e596"/>
<rect x="1546.21" y="2151.5" width="46.32" height="45.2" fill="#f5ab03"/>
<rect x="457.75" y="1971.3" width="1142.75" height="225.4" fill="none" stroke="#000" stroke-width="3.7" stroke-linejoin="round"/>
<line x1="447" x2="457.75" y1="2197" y2="2197" stroke="#333333" stroke-width="3.7"/>
<text transform="translate(443.95,2204.4) scale(1,0.957)" font-size="24.3" text-anchor="end">0</text>
<line x1="447" x2="457.75" y1="2140.2" y2="2140.2" stroke="#333333" stroke-width="3.7"/>
<text transform="translate(442.16,2148) scale(1,0.957)" font-size="24.3" text-anchor="end">25</text>
<line x1="447" x2="457.75" y1="2084" y2="2084" stroke="#333333" stroke-width="3.7"/>
<text transform="translate(442.16,2091.9) scale(1,0.957)" font-size="24.3" text-anchor="end">50</text>
<line x1="447" x2="457.75" y1="2027.7" y2="2027.7" stroke="#333333" stroke-width="3.7"/>
<text transform="translate(442.16,2035.4) scale(1,0.957)" font-size="24.3" text-anchor="end">75</text>
<line x1="447" x2="457.75" y1="1973" y2="1973" stroke="#333333" stroke-width="3.7"/>
<text transform="translate(440.36,1982.1) scale(1,0.957)" font-size="24.3" text-anchor="end">100</text>
<rect x="465.47" y="2210" width="46.32" height="44.2" fill="#22458e"/>
<rect x="465.47" y="2254.2" width="46.32" height="1.5" fill="#6c1f75"/>
<rect x="465.47" y="2255.7" width="46.32" height="179.3" fill="#128035"/>
<rect x="516.93" y="2210" width="46.32" height="187.4" fill="#22458e"/>
<rect x="516.93" y="2397.4" width="46.32" height="9.6" fill="#6c1f75"/>
<rect x="516.93" y="2407" width="46.32" height="28" fill="#128035"/>
<rect x="568.4" y="2210" width="46.32" height="217.9" fill="#a0221b"/>
<rect x="568.4" y="2427.9" width="46.32" height="2.4" fill="#6c1f75"/>
<rect x="568.4" y="2430.3" width="46.32" height="4.7" fill="#128035"/>
<rect x="619.86" y="2210" width="46.32" height="203.9" fill="#a0221b"/>
<rect x="619.86" y="2413.9" width="46.32" height="10.1" fill="#22458e"/>
<rect x="619.86" y="2424" width="46.32" height="5.1" fill="#6c1f75"/>
<rect x="619.86" y="2429.1" width="46.32" height="5.9" fill="#128035"/>
<rect x="671.33" y="2210" width="46.32" height="4.5" fill="#a0221b"/>
<rect x="671.33" y="2214.5" width="46.32" height="18.7" fill="#22458e"/>
<rect x="671.33" y="2233.2" width="46.32" height="27.9" fill="#6c1f75"/>
<rect x="671.33" y="2261.1" width="46.32" height="173.9" fill="#128035"/>
<rect x="722.79" y="2210" width="46.32" height="34.5" fill="#a0221b"/>
<rect x="722.79" y="2244.5" width="46.32" height="78" fill="#22458e"/>
<rect x="722.79" y="2322.5" width="46.32" height="34.8" fill="#6c1f75"/>
<rect x="722.79" y="2357.3" width="46.32" height="77.7" fill="#128035"/>
<rect x="774.25" y="2210" width="46.32" height="63.1" fill="#a0221b"/>
<rect x="774.25" y="2273.1" width="46.32" height="40.7" fill="#22458e"/>
<rect x="774.25" y="2313.8" width="46.32" height="5.6" fill="#6c1f75"/>
<rect x="774.25" y="2319.4" width="46.32" height="115.6" fill="#128035"/>
<rect x="825.72" y="2210" width="46.32" height="6.2" fill="#a0221b"/>
<rect x="825.72" y="2216.2" width="46.32" height="14.1" fill="#22458e"/>
<rect x="825.72" y="2230.3" width="46.32" height="6.5" fill="#6c1f75"/>
<rect x="825.72" y="2236.8" width="46.32" height="198.2" fill="#128035"/>
<rect x="877.18" y="2210" width="46.32" height="12.2" fill="#a0221b"/>
<rect x="877.18" y="2222.2" width="46.32" height="50.1" fill="#22458e"/>
<rect x="877.18" y="2272.3" width="46.32" height="162.7" fill="#128035"/>
<rect x="928.65" y="2210" width="46.32" height="21" fill="#a0221b"/>
<rect x="928.65" y="2231" width="46.32" height="121.3" fill="#22458e"/>
<rect x="928.65" y="2352.3" width="46.32" height="15.4" fill="#6c1f75"/>
<rect x="928.65" y="2367.7" width="46.32" height="67.3" fill="#128035"/>
<rect x="980.11" y="2210" width="46.32" height="73.6" fill="#a0221b"/>
<rect x="980.11" y="2283.6" width="46.32" height="92.7" fill="#22458e"/>
<rect x="980.11" y="2376.3" width="46.32" height="12.4" fill="#6c1f75"/>
<rect x="980.11" y="2388.7" width="46.32" height="46.3" fill="#128035"/>
<rect x="1031.57" y="2210" width="46.32" height="13.7" fill="#a0221b"/>
<rect x="1031.57" y="2223.7" width="46.32" height="126.8" fill="#22458e"/>
<rect x="1031.57" y="2350.5" width="46.32" height="84.5" fill="#128035"/>
<rect x="1083.04" y="2210" width="46.32" height="18.5" fill="#a0221b"/>
<rect x="1083.04" y="2228.5" width="46.32" height="89.5" fill="#22458e"/>
<rect x="1083.04" y="2318" width="46.32" height="16.8" fill="#6c1f75"/>
<rect x="1083.04" y="2334.8" width="46.32" height="100.2" fill="#128035"/>
<rect x="1134.5" y="2210" width="46.32" height="128.5" fill="#a0221b"/>
<rect x="1134.5" y="2338.5" width="46.32" height="64.4" fill="#22458e"/>
<rect x="1134.5" y="2402.9" width="46.32" height="32.1" fill="#128035"/>
<rect x="1185.97" y="2210" width="46.32" height="24.9" fill="#a0221b"/>
<rect x="1185.97" y="2234.9" width="46.32" height="75.2" fill="#22458e"/>
<rect x="1185.97" y="2310.1" width="46.32" height="24.7" fill="#6c1f75"/>
<rect x="1185.97" y="2334.8" width="46.32" height="100.2" fill="#128035"/>
<rect x="1237.43" y="2210" width="46.32" height="23.7" fill="#a0221b"/>
<rect x="1237.43" y="2233.7" width="46.32" height="124.8" fill="#22458e"/>
<rect x="1237.43" y="2358.5" width="46.32" height="9.2" fill="#6c1f75"/>
<rect x="1237.43" y="2367.7" width="46.32" height="67.3" fill="#128035"/>
<rect x="1288.89" y="2210" width="46.32" height="59.6" fill="#a0221b"/>
<rect x="1288.89" y="2269.6" width="46.32" height="90.4" fill="#22458e"/>
<rect x="1288.89" y="2360" width="46.32" height="29.9" fill="#6c1f75"/>
<rect x="1288.89" y="2389.9" width="46.32" height="45.1" fill="#128035"/>
<rect x="1340.36" y="2210" width="46.32" height="128.2" fill="#22458e"/>
<rect x="1340.36" y="2338.2" width="46.32" height="96.8" fill="#128035"/>
<rect x="1391.82" y="2210" width="46.32" height="154.7" fill="#22458e"/>
<rect x="1391.82" y="2364.7" width="46.32" height="13.8" fill="#6c1f75"/>
<rect x="1391.82" y="2378.5" width="46.32" height="56.5" fill="#128035"/>
<rect x="1443.29" y="2210" width="46.32" height="37.1" fill="#a0221b"/>
<rect x="1443.29" y="2247.1" width="46.32" height="187.9" fill="#22458e"/>
<rect x="1494.75" y="2210" width="46.32" height="15.5" fill="#22458e"/>
<rect x="1494.75" y="2225.5" width="46.32" height="182.4" fill="#6c1f75"/>
<rect x="1494.75" y="2407.9" width="46.32" height="27.1" fill="#128035"/>
<rect x="1546.21" y="2210" width="46.32" height="193.1" fill="#22458e"/>
<rect x="1546.21" y="2403.1" width="46.32" height="31.9" fill="#128035"/>
<rect x="457.75" y="2210" width="1142.75" height="225" fill="none" stroke="#000" stroke-width="3.7" stroke-linejoin="round"/>
<line x1="447" x2="457.75" y1="2435" y2="2435" stroke="#333333" stroke-width="3.7"/>
<text transform="translate(443.95,2442.9) scale(1,0.957)" font-size="24.3" text-anchor="end">0</text>
<line x1="447" x2="457.75" y1="2379.2" y2="2379.2" stroke="#333333" stroke-width="3.7"/>
<text transform="translate(442.16,2387.1) scale(1,0.957)" font-size="24.3" text-anchor="end">25</text>
<line x1="447" x2="457.75" y1="2322.6" y2="2322.6" stroke="#333333" stroke-width="3.7"/>
<text transform="translate(442.16,2330.5) scale(1,0.957)" font-size="24.3" text-anchor="end">50</text>
<line x1="447" x2="457.75" y1="2266" y2="2266" stroke="#333333" stroke-width="3.7"/>
<text transform="translate(442.16,2273.9) scale(1,0.957)" font-size="24.3" text-anchor="end">75</text>
<line x1="447" x2="457.75" y1="2219.8" y2="2219.8" stroke="#333333" stroke-width="3.7"/>
<text transform="translate(440.36,2219.2) scale(1,0.957)" font-size="24.3" text-anchor="end">100</text>
<text transform="translate(382,2257.5) rotate(-90) scale(1,1.04)" font-size="28.7" text-anchor="middle">Percent (%)</text>
<text transform="translate(1642.8,701.1) scale(1,1.04)" font-size="28.4" font-weight="bold">Highest level of evidence</text>
<rect x="1642" y="726.1" width="48" height="47.8" fill="#33a421"/>
<text transform="translate(1704.8,759.3) scale(1,1.04)" font-size="28.5">Level 1</text>
<text transform="translate(1704.8,793.1) scale(1,1.04)" font-size="28.5">(FDA-recognized)</text>
<rect x="1642" y="813" width="48" height="47.8" fill="#2e79b5"/>
<text transform="translate(1704.8,845.9) scale(1,1.04)" font-size="28.5">Level 2</text>
<text transform="translate(1704.8,879.7) scale(1,1.04)" font-size="28.5">(standard care)</text>
<rect x="1642" y="896.2" width="48" height="47.8" fill="#a74bbd"/>
<text transform="translate(1704.8,929.6) scale(1,1.04)" font-size="28.5">Level 3A</text>
<text transform="translate(1704.8,963.4) scale(1,1.04)" font-size="28.5">(clinical evidence)</text>
<rect x="1642" y="983.2" width="48" height="47.8" fill="#dba3e4"/>
<text transform="translate(1704.8,1016.7) scale(1,1.04)" font-size="28.5">Level 3B</text>
<text transform="translate(1704.8,1050.5) scale(1,1.04)" font-size="28.5">(clinical evidence)</text>
<rect x="1642" y="1069.5" width="48" height="47.8" fill="#b0acaa"/>
<text transform="translate(1704.8,1102.7) scale(1,1.04)" font-size="28.5">Level 4</text>
<text transform="translate(1704.8,1136.5) scale(1,1.04)" font-size="28.5">(biological evidence)</text>
<rect x="1642" y="1155.9" width="48" height="47.8" fill="#fde0c5"/>
<text transform="translate(1704.8,1188.6) scale(1,1.04)" font-size="28.5">Oncogenic</text>
<rect x="1642" y="1216.7" width="48" height="47.8" fill="#e8e8e8"/>
<text transform="translate(1704.8,1250.4) scale(1,1.04)" font-size="28.5">No level</text>
<text transform="translate(1622.3,2043.4) scale(1,1.04)" font-size="28.4" font-weight="bold">Actionable</text>
<text transform="translate(1622.3,2080.5) scale(1,1.04)" font-size="28.4" font-weight="bold">alterations count</text>
<rect x="1625.7" y="2100.1" width="43.3" height="43" fill="#f8e596"/>
<rect x="1715.1" y="2100.6" width="39.8" height="39.5" fill="#f5ab03"/>
<rect x="1801" y="2100.6" width="39.8" height="39.5" fill="#e06e04"/>
<rect x="1890" y="2100.6" width="39.8" height="39.5" fill="#761e5e"/>
<text transform="translate(1677.1,2131.8) scale(1,1.04)" font-size="28.5">0</text>
<text transform="translate(1767,2131.8) scale(1,1.04)" font-size="28.5">1</text>
<text transform="translate(1852.1,2131.8) scale(1,1.04)" font-size="28.5">2</text>
<text transform="translate(1940.6,2131.8) scale(1,1.04)" font-size="28.5">3+</text>
<text transform="translate(1622.3,2263.1) scale(1,1.04)" font-size="28.4" font-weight="bold">Actionable</text>
<text transform="translate(1622.3,2298.6) scale(1,1.04)" font-size="28.4" font-weight="bold">alteration type</text>
<rect x="1619" y="2318.2" width="39" height="38.8" fill="#a0221b"/>
<rect x="1619" y="2365" width="39" height="38.8" fill="#22458e"/>
<rect x="1844.9" y="2318.9" width="38" height="37.8" fill="#6c1f75"/>
<rect x="1844.9" y="2365.6" width="38" height="37.8" fill="#128035"/>
<text transform="translate(1665.4,2347.1) scale(1,1.04)" font-size="28.5">Amplification</text>
<text transform="translate(1662.7,2397) scale(1,1.04)" font-size="28.5">Deletion</text>
<text transform="translate(1890,2350.4) scale(1,1.04)" font-size="28.5">Fusion</text>
<text transform="translate(1889.7,2395) scale(1,1.04)" font-size="28.5">Mutation</text>
</svg>
</body></html>
